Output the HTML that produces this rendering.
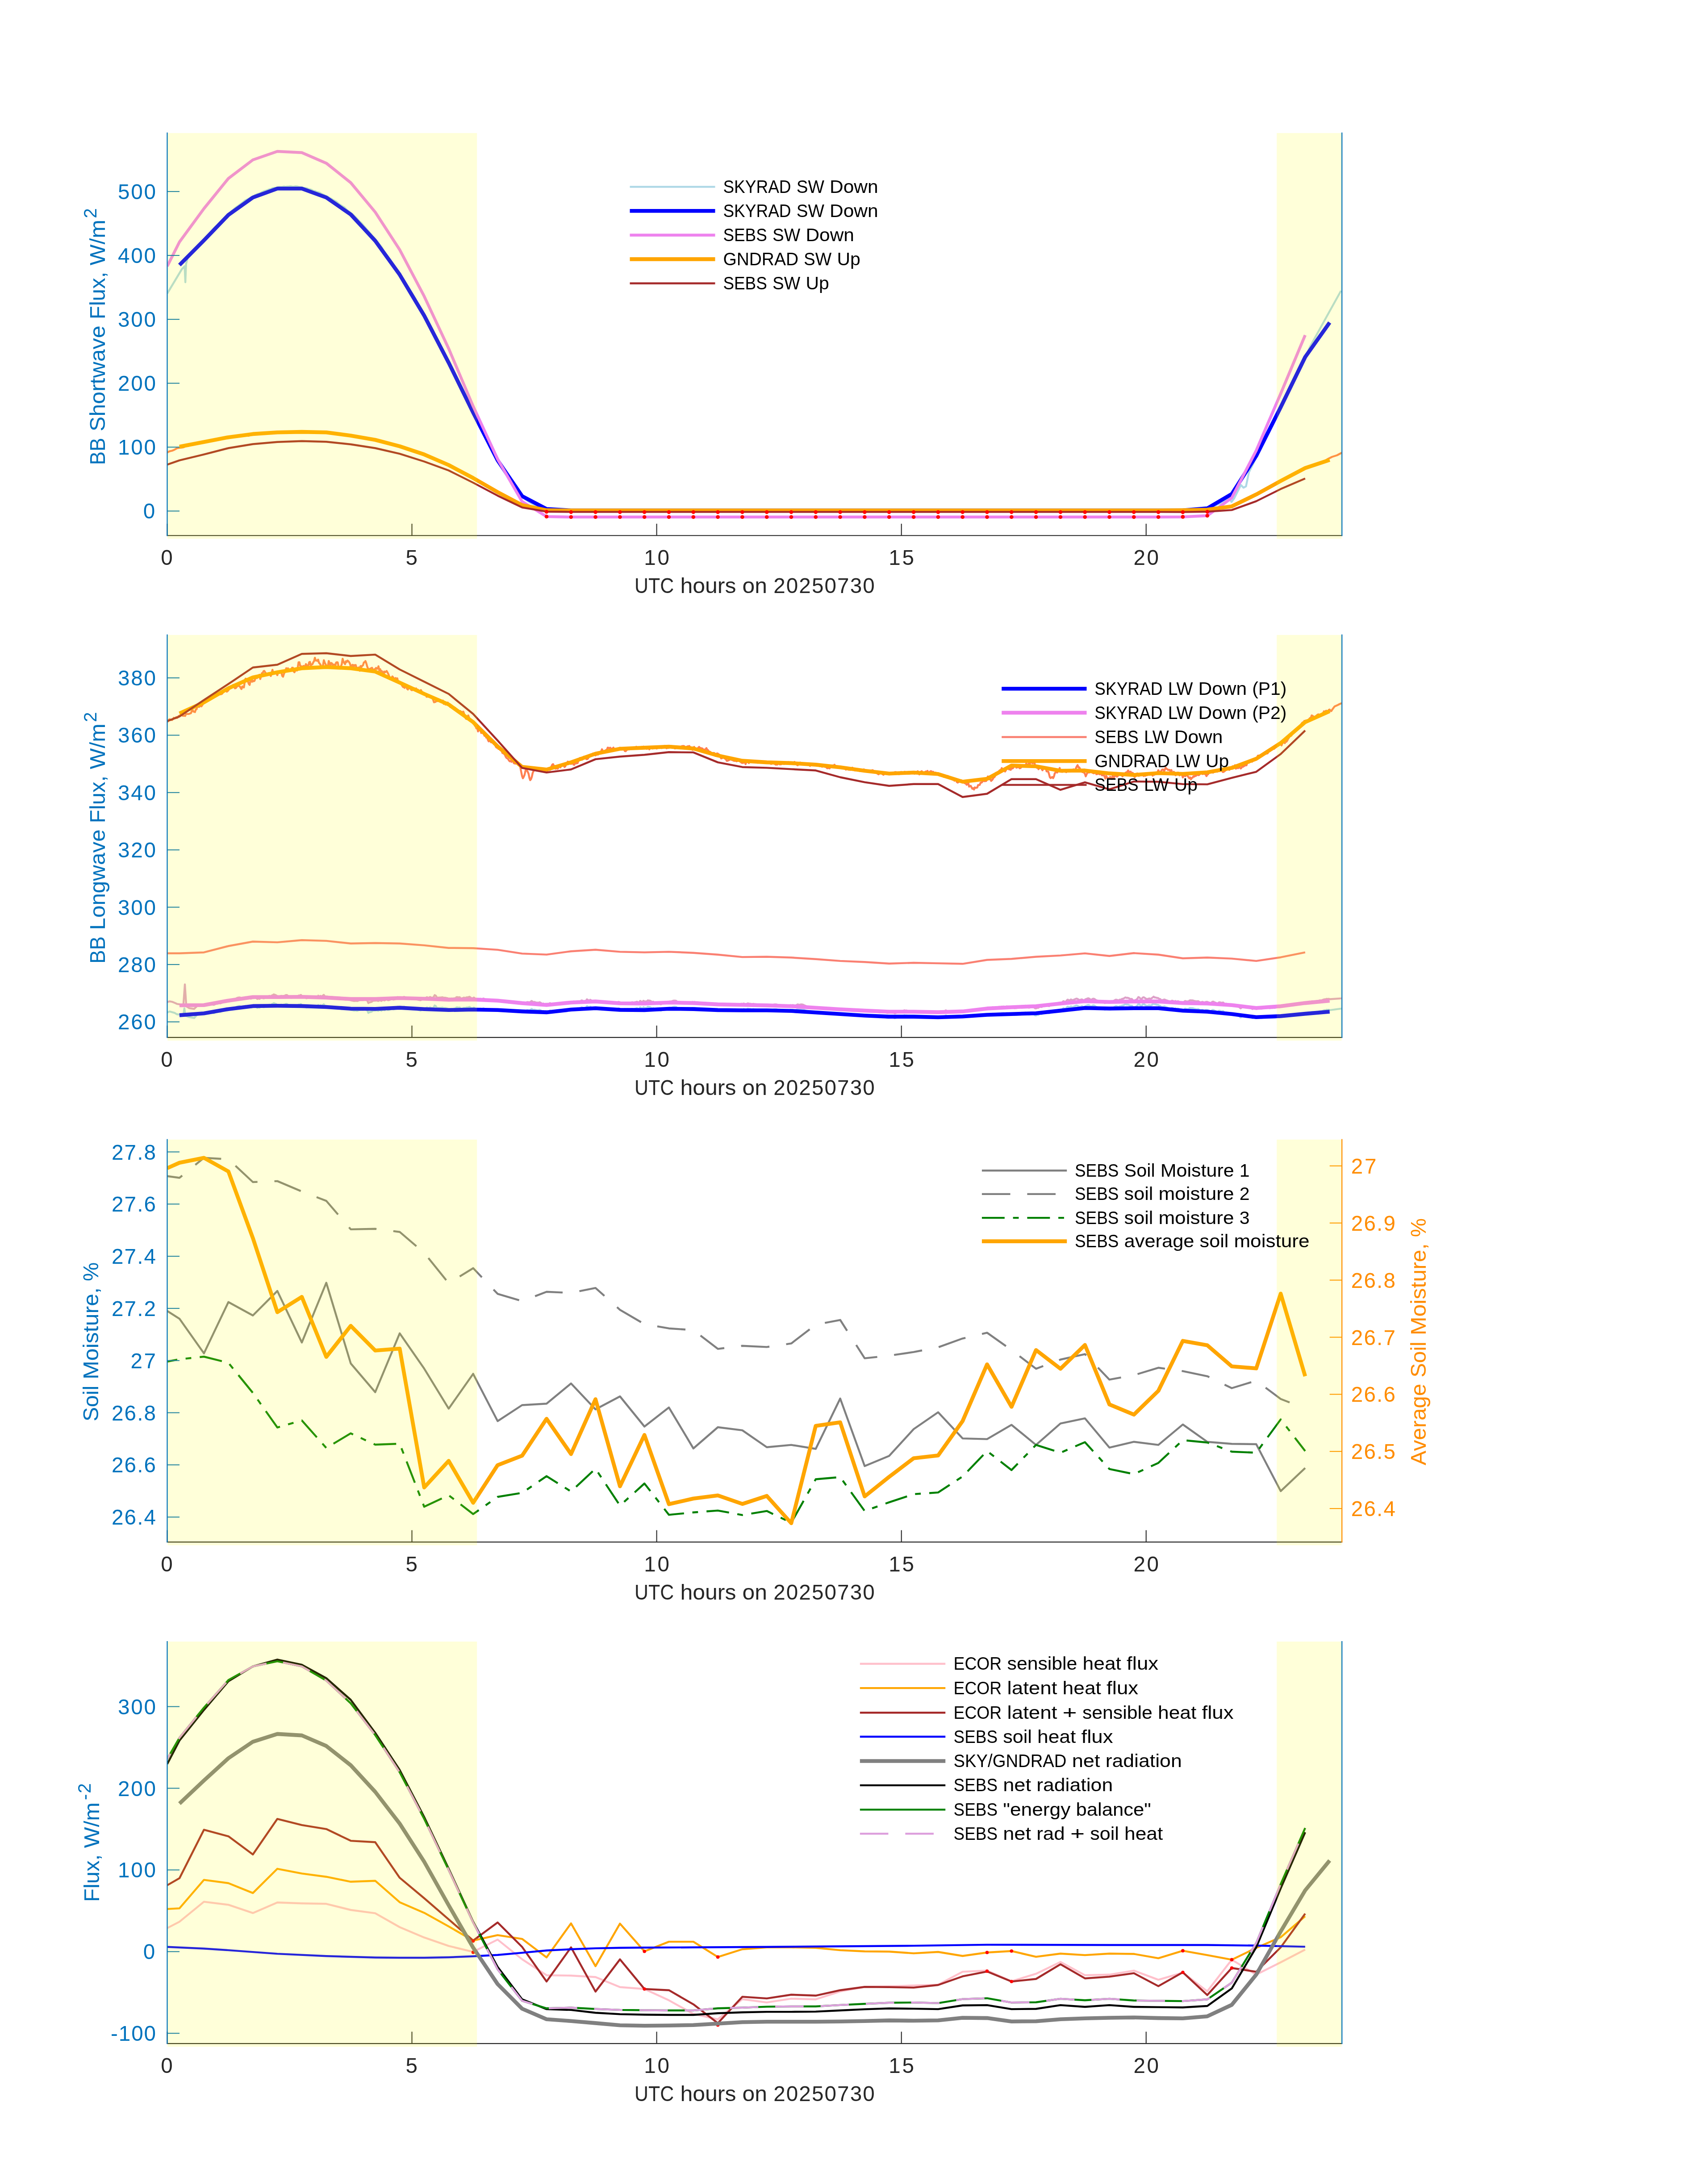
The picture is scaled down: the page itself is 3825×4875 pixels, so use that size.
<!DOCTYPE html>
<html lang="en"><head><meta charset="utf-8"><title>Radiation and flux plots</title>
<style>html,body{margin:0;padding:0;background:#fff}svg{display:block;will-change:transform}text{font-family:"Liberation Sans",sans-serif}</style></head>
<body>
<svg width="3825" height="4875" viewBox="0 0 3825 4875" font-family="Liberation Sans, sans-serif">
<rect width="3825" height="4875" fill="#ffffff"/>
<defs>
<clipPath id="c0"><rect x="374.5" y="294.8" width="2630.7" height="904.5"/></clipPath>
<clipPath id="c1"><rect x="374.5" y="1418.8" width="2630.7" height="904.3"/></clipPath>
<clipPath id="c2"><rect x="374.5" y="2548.8" width="2630.7" height="904.3"/></clipPath>
<clipPath id="c3"><rect x="374.5" y="3672.9" width="2630.7" height="903.2"/></clipPath>
</defs>
<g>
<g clip-path="url(#c0)">
<path d="M374.5 657.3 L407.4 602.5 L413.4 596.2 L415.1 632 L416.7 590.9 L420.5 576.6 L424.2 573.4 L427.8 568.8 L431.5 565.1 L435.2 560.3 L438.8 556.6 L442.5 553 L446.1 548.4 L449.8 545.1 L453.4 540.1 L457.1 536.2 L460.7 532.2 L464.4 528.5 L468 525 L471.7 520.1 L475.3 515.7 L479 511.5 L482.6 507.7 L486.3 505.5 L490 501.4 L493.6 497.1 L497.3 493.2 L500.9 489.5 L504.6 486 L508.2 483.2 L511.9 479.8 L515.5 476.6 L519.2 472.2 L522.8 469.4 L526.5 466 L530.1 463.3 L533.8 460.8 L537.5 458 L541.1 455.2 L544.8 452.4 L548.4 449.4 L552.1 447.5 L555.7 445.7 L559.4 443.7 L563 441.5 L566.7 440 L570.3 437.5 L574 435.7 L577.6 434.1 L581.3 433.4 L585 431.3 L588.6 429.4 L592.3 427.8 L595.9 426.9 L599.6 425.5 L603.2 423.9 L606.9 423.3 L610.5 421.4 L614.2 420.8 L617.8 420.6 L621.5 419.7 L625.1 418.7 L628.8 418.7 L632.4 418.4 L636.1 417.6 L639.8 418.3 L643.4 417.8 L647.1 417.5 L650.7 417.1 L654.4 417.6 L658 418 L661.7 417.2 L665.3 417.5 L669 418.4 L672.6 419.3 L676.3 419.7 L679.9 420.6 L683.6 421.1 L687.3 421.6 L690.9 423.5 L694.6 424.1 L698.2 425.4 L701.9 427.6 L705.5 428 L709.2 429.9 L712.8 430.5 L716.5 431.9 L720.1 434.4 L723.8 435.9 L727.4 437.6 L731.1 439.5 L734.8 441.2 L738.4 443.9 L742.1 445.2 L745.7 447.8 L749.4 449.7 L753 451.5 L756.7 454.8 L760.3 458 L764 460.1 L767.6 462.4 L771.3 464.5 L774.9 468.3 L778.6 471.7 L782.2 474.2 L785.9 477.1 L789.6 479.7 L793.2 483.4 L796.9 487 L800.5 491 L804.2 495.2 L807.8 498.1 L811.5 502.1 L815.1 506.5 L818.8 510.8 L822.4 515.1 L826.1 518.8 L829.7 523.5 L833.4 528 L837.1 531.7 L840.7 536.2 L844.4 540.4 L848 545.4 L851.7 549.7 L855.3 554.5 L859 561.4 L862.6 566.4 L866.3 571.4 L869.9 576.1 L873.6 581.2 L877.2 586.8 L880.9 591.9 L884.6 597.4 L888.2 602.9 L891.9 607.9 L895.5 613.1 L899.2 619.1 L902.8 624.7 L906.5 630.3 L910.1 636.7 L913.8 642.4 L917.4 648.4 L921.1 654.2 L924.7 659.9 L928.4 665.9 L932 672.7 L935.7 679.7 L939.4 686.3 L943 691.8 L946.7 698.1 L950.3 705.3 L954 712.3 L957.6 718.6 L961.3 725 L964.9 731.4 L968.6 738.9 L972.2 747 L975.9 752.9 L979.5 759.8 L983.2 767.3 L986.9 775 L990.5 781.3 L994.2 788.6 L997.8 796 L1001.5 803.4 L1005.1 810.4 L1008.8 818 L1012.4 824.8 L1016.1 832.7 L1019.7 840.6 L1023.4 848 L1027 855.6 L1030.7 863 L1034.4 870.1 L1038 878 L1041.7 885.4 L1045.3 893.3 L1049 900.9 L1052.6 908.6 L1056.3 915.4 L1059.9 922.2 L1063.6 929.6 L1067.2 937.6 L1070.9 944.4 L1074.5 951.5 L1078.2 959.2 L1081.8 966.4 L1085.5 974.9 L1089.2 983.8 L1092.8 991.3 L1096.5 998.4 L1100.1 1004.8 L1103.8 1012 L1107.4 1018.8 L1111.1 1025.2 L1114.7 1031.6 L1118.4 1037.5 L1122 1043.5 L1125.7 1050.4 L1129.3 1056.7 L1133 1062.5 L1136.7 1067.7 L1140.3 1073.3 L1144 1079 L1147.6 1084.4 L1151.3 1089.5 L1154.9 1094.5 L1158.6 1099.1 L1162.2 1103.5 L1165.9 1107.6 L1169.5 1111.3 L1173.2 1114.8 L1176.8 1118 L1180.5 1120.8 L1184.2 1123.4 L1187.8 1125.7 L1191.5 1127.8 L1195.1 1129.6 L1198.8 1131.3 L1202.4 1132.8 L1206.1 1134.3 L1209.7 1135.5 L1213.4 1136.6 L1217 1137.8 L1220.7 1139 L1224.3 1140 L1228 1140.9 L1231.7 1141.7 L1235.3 1142.4 L1239 1142.8 L1242.6 1143.2 L1246.3 1143.2 L1249.9 1143.3 L1253.6 1143.2 L1257.2 1143.2 L1260.9 1143.1 L1264.5 1143.1 L1268.2 1143 L1271.8 1142.9 L1275.5 1142.9 L1279.1 1143.1 L1282.8 1143.1 L1286.5 1143.1 L1290.1 1143.1 L1293.8 1143.2 L1297.4 1143.2 L1301.1 1143.2 L1304.7 1143.2 L1308.4 1143.2 L1312 1143.1 L1315.7 1143 L1319.3 1143 L1323 1142.9 L1326.6 1143 L1330.3 1142.9 L1334 1142.9 L1337.6 1142.9 L1341.3 1142.9 L1344.9 1142.8 L1348.6 1143 L1352.2 1142.9 L1355.9 1142.9 L1359.5 1142.8 L1363.2 1142.9 L1366.8 1142.9 L1370.5 1142.9 L1374.1 1142.9 L1377.8 1142.9 L1381.5 1143 L1385.1 1143.1 L1388.8 1143 L1392.4 1142.9 L1396.1 1143.1 L1399.7 1143.1 L1403.4 1143.1 L1407 1143 L1410.7 1143 L1414.3 1142.9 L1418 1142.9 L1421.6 1142.9 L1425.3 1142.9 L1428.9 1142.9 L1432.6 1143 L1436.3 1143.1 L1439.9 1143 L1443.6 1143 L1447.2 1143.1 L1450.9 1143.2 L1454.5 1143.1 L1458.2 1143.1 L1461.8 1142.9 L1465.5 1142.9 L1469.1 1143.1 L1472.8 1143 L1476.4 1143 L1480.1 1143 L1483.8 1143 L1487.4 1142.9 L1491.1 1142.9 L1494.7 1142.9 L1498.4 1142.9 L1502 1143.1 L1505.7 1143 L1509.3 1143.1 L1513 1143.1 L1516.6 1143 L1520.3 1142.9 L1523.9 1142.9 L1527.6 1142.9 L1531.3 1143 L1534.9 1143.1 L1538.6 1143.1 L1542.2 1143 L1545.9 1143 L1549.5 1143 L1553.2 1143.1 L1556.8 1142.9 L1560.5 1142.9 L1564.1 1143 L1567.8 1143 L1571.4 1143 L1575.1 1143 L1578.7 1143 L1582.4 1142.9 L1586.1 1143 L1589.7 1142.8 L1593.4 1142.9 L1597 1142.9 L1600.7 1142.8 L1604.3 1143 L1608 1143 L1611.6 1142.9 L1615.3 1142.9 L1618.9 1142.9 L1622.6 1143 L1626.2 1143 L1629.9 1143 L1633.6 1143 L1637.2 1142.9 L1640.9 1142.9 L1644.5 1142.9 L1648.2 1143 L1651.8 1143 L1655.5 1143 L1659.1 1143 L1662.8 1143.1 L1666.4 1143 L1670.1 1143 L1673.7 1142.9 L1677.4 1143 L1681.1 1143 L1684.7 1143 L1688.4 1143.1 L1692 1143 L1695.7 1143.1 L1699.3 1143 L1703 1143 L1706.6 1143 L1710.3 1142.9 L1713.9 1142.9 L1717.6 1142.9 L1721.2 1143 L1724.9 1143.1 L1728.5 1143 L1732.2 1143 L1735.9 1142.9 L1739.5 1142.9 L1743.2 1143 L1746.8 1142.9 L1750.5 1142.9 L1754.1 1143 L1757.8 1143 L1761.4 1143 L1765.1 1143 L1768.7 1143.1 L1772.4 1142.9 L1776 1142.9 L1779.7 1142.9 L1783.4 1142.8 L1787 1142.8 L1790.7 1142.9 L1794.3 1142.9 L1798 1143 L1801.6 1143 L1805.3 1143 L1808.9 1143 L1812.6 1142.9 L1816.2 1142.9 L1819.9 1143 L1823.5 1143 L1827.2 1142.9 L1830.9 1143 L1834.5 1143 L1838.2 1143 L1841.8 1143 L1845.5 1143 L1849.1 1143.1 L1852.8 1142.9 L1856.4 1142.9 L1860.1 1143.1 L1863.7 1143.1 L1867.4 1143 L1871 1143 L1874.7 1143 L1878.3 1143.1 L1882 1143 L1885.7 1143 L1889.3 1143 L1893 1143 L1896.6 1143.1 L1900.3 1142.9 L1903.9 1143 L1907.6 1143.1 L1911.2 1143.2 L1914.9 1143.1 L1918.5 1143.1 L1922.2 1143.1 L1925.8 1143 L1929.5 1143.1 L1933.2 1143.1 L1936.8 1143 L1940.5 1143 L1944.1 1143 L1947.8 1142.9 L1951.4 1143 L1955.1 1143 L1958.7 1143.1 L1962.4 1142.9 L1966 1142.9 L1969.7 1143 L1973.3 1142.9 L1977 1143 L1980.7 1143.1 L1984.3 1143 L1988 1143 L1991.6 1143.2 L1995.3 1143.1 L1998.9 1143 L2002.6 1143 L2006.2 1143 L2009.9 1142.9 L2013.5 1143 L2017.2 1143 L2020.8 1143.1 L2024.5 1143 L2028.1 1143 L2031.8 1143 L2035.5 1143 L2039.1 1143 L2042.8 1143 L2046.4 1143.1 L2050.1 1143 L2053.7 1143 L2057.4 1143.1 L2061 1142.9 L2064.7 1142.9 L2068.3 1142.9 L2072 1142.9 L2075.6 1142.9 L2079.3 1143 L2083 1143 L2086.6 1143 L2090.3 1143 L2093.9 1143 L2097.6 1142.9 L2101.2 1143 L2104.9 1143.1 L2108.5 1143.1 L2112.2 1143 L2115.8 1143.1 L2119.5 1143.1 L2123.1 1143 L2126.8 1143.1 L2130.5 1143 L2134.1 1143.1 L2137.8 1143 L2141.4 1142.9 L2145.1 1143 L2148.7 1143.1 L2152.4 1143.2 L2156 1143.1 L2159.7 1143 L2163.3 1143.2 L2167 1143.1 L2170.6 1143.2 L2174.3 1143.1 L2177.9 1143.1 L2181.6 1143.1 L2185.3 1143.1 L2188.9 1143.1 L2192.6 1143.2 L2196.2 1143.1 L2199.9 1143 L2203.5 1143 L2207.2 1143 L2210.8 1143.1 L2214.5 1143.1 L2218.1 1143 L2221.8 1143 L2225.4 1143 L2229.1 1143 L2232.8 1143 L2236.4 1143.1 L2240.1 1143 L2243.7 1142.9 L2247.4 1143 L2251 1142.8 L2254.7 1142.9 L2258.3 1142.9 L2262 1142.8 L2265.6 1142.8 L2269.3 1142.8 L2272.9 1142.9 L2276.6 1142.9 L2280.3 1142.9 L2283.9 1142.9 L2287.6 1142.9 L2291.2 1143 L2294.9 1142.9 L2298.5 1143 L2302.2 1142.9 L2305.8 1142.9 L2309.5 1143 L2313.1 1143.1 L2316.8 1142.9 L2320.4 1142.9 L2324.1 1142.9 L2327.8 1142.8 L2331.4 1143 L2335.1 1143 L2338.7 1143 L2342.4 1143 L2346 1143 L2349.7 1143.1 L2353.3 1143 L2357 1143 L2360.6 1143.1 L2364.3 1143.1 L2367.9 1143.2 L2371.6 1143.1 L2375.2 1143 L2378.9 1143.1 L2382.6 1143.1 L2386.2 1143 L2389.9 1143.1 L2393.5 1143.1 L2397.2 1143.1 L2400.8 1143.1 L2404.5 1143.1 L2408.1 1143.1 L2411.8 1143.1 L2415.4 1142.9 L2419.1 1142.9 L2422.7 1143 L2426.4 1143 L2430.1 1143 L2433.7 1142.9 L2437.4 1142.9 L2441 1143 L2444.7 1143 L2448.3 1143.1 L2452 1143 L2455.6 1143.2 L2459.3 1143 L2462.9 1143 L2466.6 1143 L2470.2 1143 L2473.9 1143.1 L2477.6 1143 L2481.2 1143 L2484.9 1143.1 L2488.5 1143.1 L2492.2 1143 L2495.8 1142.9 L2499.5 1143 L2503.1 1142.9 L2506.8 1142.9 L2510.4 1143 L2514.1 1142.9 L2517.7 1142.9 L2521.4 1143 L2525 1143 L2528.7 1143 L2532.4 1142.9 L2536 1143 L2539.7 1143 L2543.3 1143 L2547 1143 L2550.6 1142.9 L2554.3 1142.9 L2557.9 1143 L2561.6 1143.1 L2565.2 1143 L2568.9 1143 L2572.5 1143.2 L2576.2 1143.1 L2579.9 1143.1 L2583.5 1143.1 L2587.2 1143.1 L2590.8 1143 L2594.5 1143 L2598.1 1143.1 L2601.8 1143.1 L2605.4 1143.2 L2609.1 1143.2 L2612.7 1143.3 L2616.4 1143.2 L2620 1143.2 L2623.7 1143.1 L2627.4 1143.2 L2631 1143.1 L2634.7 1143.1 L2638.3 1143.1 L2642 1143 L2645.6 1142.9 L2649.3 1142.9 L2652.9 1142.7 L2656.6 1142.7 L2660.2 1142.6 L2663.9 1142.5 L2667.5 1142.6 L2671.2 1142.7 L2674.8 1142.7 L2678.5 1142.6 L2682.2 1142.3 L2685.8 1142.1 L2689.5 1141.7 L2693.1 1141.1 L2696.8 1140.3 L2700.4 1139.4 L2704.1 1138.4 L2707.7 1137.2 L2711.4 1135.9 L2715 1134.6 L2718.7 1133.3 L2722.3 1131.8 L2726 1130.1 L2729.7 1128.3 L2733.3 1126.8 L2737 1124.9 L2740.6 1121.9 L2744.3 1119.4 L2747.9 1116.6 L2751.6 1113.9 L2758 1124 L2763.7 1116.3 L2778.9 1086 L2784.9 1092.1 L2790.4 1089 L2797 1057.2 L2806.2 1039 L2821 1007.4 L2824.6 1001 L2828.3 993 L2832 986.2 L2835.6 978.3 L2839.3 971.3 L2842.9 963.2 L2846.6 956.1 L2850.2 948.4 L2853.9 940.6 L2857.5 933.7 L2861.2 926 L2864.8 918.6 L2868.5 910.9 L2872.1 904 L2875.8 896.4 L2879.5 888.5 L2883.1 881.2 L2886.8 872.9 L2890.4 865 L2894.1 857 L2897.7 849.7 L2901.4 842.4 L2905 834.1 L2908.7 826.6 L2912.3 819.9 L2916 813.1 L2919.6 806.1 L2923.3 799.8 L2927 792.5 L2933.5 776.8 L2972.9 705.5 L3003.2 651" fill="none" stroke="#ADD8E6" stroke-width="4.4" stroke-linejoin="round"/>
<path d="M401.9 593.5 L456.7 538.2 L511.5 481.3 L566.3 442.3 L621.1 422.3 L675.9 422.3 L730.7 442.3 L785.5 480.2 L840.3 539.2 L895.1 615.1 L950 706.8 L1004.8 812.2 L1059.6 923.9 L1114.4 1030.9 L1169.2 1111 L1224 1139.9 L1278.8 1143 L1333.6 1143 L1388.4 1143 L1443.2 1143 L1498 1143 L1552.8 1143 L1607.6 1143 L1662.4 1143 L1717.2 1143 L1772 1143 L1826.8 1143 L1881.6 1143 L1936.4 1143 L1991.2 1143 L2046.1 1143 L2100.9 1143 L2155.7 1143 L2210.5 1143 L2265.3 1143 L2320.1 1143 L2374.9 1143 L2429.7 1143 L2484.5 1143 L2539.3 1143 L2594.1 1143 L2648.9 1142.7 L2703.7 1138.4 L2758.5 1106.3 L2813.3 1020.8 L2868.1 911.7 L2922.9 799.5 L2977.7 722.2" fill="none" stroke="#0000FF" stroke-width="8.6" stroke-linejoin="round"/>
<path d="M374.5 596.2 L401.9 541.9 L456.7 467.1 L511.5 399.6 L566.3 358 L621.1 339 L675.9 341.7 L730.7 365.4 L785.5 409.1 L840.3 475 L895.1 559.3 L950 663.6 L1004.8 780.6 L1059.6 909.7 L1114.4 1028.2 L1169.2 1123.1 L1224 1156.8 L1278.8 1157.8 L1333.6 1157.8 L1388.4 1157.8 L1443.2 1157.8 L1498 1157.8 L1552.8 1157.8 L1607.6 1157.8 L1662.4 1157.8 L1717.2 1157.8 L1772 1157.8 L1826.8 1157.8 L1881.6 1157.8 L1936.4 1157.8 L1991.2 1157.8 L2046.1 1157.8 L2100.9 1157.8 L2155.7 1157.8 L2210.5 1157.8 L2265.3 1157.8 L2320.1 1157.8 L2374.9 1157.8 L2429.7 1157.8 L2484.5 1157.8 L2539.3 1157.8 L2594.1 1157.8 L2648.9 1157.4 L2703.7 1154.8 L2758.5 1114.8 L2813.3 1008.7 L2868.1 881.4 L2922.9 750.4" fill="none" stroke="#EE82EE" stroke-width="6.5" stroke-linejoin="round"/>
<path d="M374.5 1013.5 L377.8 1011.4 L381.4 1010.1 L385.1 1009.4 L388.7 1008 L392.4 1006.1 L396.1 1003.9 L399.7 1003.1 L403.4 1002.5 L407 1002.3 L410.7 1001.7 L414.3 1000.1 L418 999 L421.6 998.8 L425.3 997.1 L428.9 996.9 L432.6 996 L436.2 995.1 L439.9 993.8 L443.6 992.8 L447.2 992.7 L450.9 991.4 L454.5 990.2 L458.2 989.7 L461.8 988.7 L465.5 988.8 L469.1 987.7 L472.8 986.6 L476.4 986.3 L480.1 985.3 L483.7 984.8 L487.4 984.9 L491.1 983.4 L494.7 982.9 L498.4 981.6 L502 981.8 L505.7 981.5 L509.3 981 L513 979.9 L516.6 979.9 L520.3 979.3 L523.9 977.4 L527.6 976.2 L531.2 977.2 L534.9 976.7 L538.5 976.1 L542.2 976.1 L545.9 975.4 L549.5 974.9 L553.2 975 L556.8 975.8 L560.5 974.4 L564.1 973.3 L567.8 973 L571.4 972.6 L575.1 971.5 L578.7 971.6 L582.4 971.6 L586 971.3 L589.7 971.2 L593.4 970.3 L597 970.3 L600.7 970.3 L604.3 969.7 L608 970.5 L611.6 969.8 L615.3 968.5 L618.9 968.2 L622.6 969.5 L626.2 969.2 L629.9 967.9 L633.5 968.2 L637.2 968 L640.9 967.9 L644.5 968.7 L648.2 968.9 L651.8 969.1 L655.5 967.6 L659.1 967.4 L662.8 967.2 L666.4 967.9 L670.1 967 L673.7 967.6 L677.4 967.3 L681 967.5 L684.7 967.3 L688.3 967.6 L692 967.6 L695.7 967.7 L699.3 968.2 L703 968.6 L706.6 968.1 L710.3 967.8 L713.9 968.1 L717.6 968.2 L721.2 968.2 L724.9 968.7 L728.5 969.3 L732.2 968.7 L735.8 969.7 L739.5 969.3 L743.2 970.1 L746.8 971.1 L750.5 971.7 L754.1 972 L757.8 971.9 L761.4 973 L765.1 973 L768.7 973.4 L772.4 973.4 L776 974.1 L779.7 975 L783.3 975.6 L787 976.2 L790.7 977.3 L794.3 977 L798 978 L801.6 979.2 L805.3 979.8 L808.9 980.1 L812.6 980.2 L816.2 980.5 L819.9 981.1 L823.5 982 L827.2 982.9 L830.8 984.1 L834.5 985.5 L838.2 986.2 L841.8 986 L845.5 986.8 L849.1 988.1 L852.8 989.1 L856.4 990.2 L860.1 991.1 L863.7 992.2 L867.4 992.8 L871 993.9 L874.7 994.9 L878.3 996.3 L882 996.3 L885.6 996.6 L889.3 998 L893 998.6 L896.6 999.5 L900.3 1000.5 L903.9 1001.8 L907.6 1003.7 L911.2 1005.1 L914.9 1006.7 L918.5 1007.1 L922.2 1007.6 L925.8 1009.2 L929.5 1010.7 L933.1 1012 L936.8 1013.6 L940.5 1015.3 L944.1 1015.2 L947.8 1017.4 L951.4 1018.7 L955.1 1020.4 L958.7 1021.4 L962.4 1022.9 L966 1024.1 L969.7 1025.9 L973.3 1026.5 L977 1029.4 L980.6 1031.2 L984.3 1032.5 L988 1033.4 L991.6 1035.6 L995.3 1036.5 L998.9 1038.7 L1002.6 1040.3 L1006.2 1042.8 L1009.9 1044 L1013.5 1045.3 L1017.2 1047.2 L1020.8 1048.9 L1024.5 1051.7 L1028.1 1054.3 L1031.8 1056 L1035.4 1058.5 L1039.1 1059.8 L1042.8 1060.9 L1046.4 1062.6 L1050.1 1064.8 L1053.7 1067.5 L1057.4 1068.9 L1061 1071.4 L1064.7 1073.7 L1068.3 1075.5 L1072 1077.9 L1075.6 1079.7 L1079.3 1081.5 L1082.9 1083.8 L1086.6 1085.9 L1090.3 1088.3 L1093.9 1091.2 L1097.6 1093.4 L1101.2 1095.2 L1104.9 1097.3 L1108.5 1098.8 L1112.2 1100.5 L1115.8 1103.2 L1119.5 1105.5 L1123.1 1106.9 L1126.8 1108.5 L1130.4 1110.8 L1134.1 1112.5 L1137.8 1114.1 L1141.4 1116 L1145.1 1118 L1148.7 1120.6 L1152.4 1121.5 L1156 1123.9 L1159.7 1125.8 L1163.3 1127.3 L1167 1128.8 L1170.6 1130.6 L1174.3 1131.5 L1177.9 1133.4 L1181.6 1133.8 L1185.2 1133.6 L1188.9 1135.1 L1192.6 1136.5 L1196.2 1137.5 L1199.9 1137.5 L1203.5 1138.3 L1207.2 1139 L1210.8 1139.8 L1214.5 1140.4 L1218.1 1140.9 L1221.8 1141.6 L1225.4 1142 L1229.1 1142.2 L1232.7 1142.4 L1236.4 1142.7 L1240.1 1142.7 L1243.7 1142.8 L1247.4 1142.7 L1251 1142.8 L1254.7 1142.8 L1258.3 1142.9 L1262 1142.8 L1265.6 1142.9 L1269.3 1142.9 L1272.9 1142.9 L1276.6 1142.9 L1280.2 1142.9 L1283.9 1143 L1287.6 1143 L1291.2 1143 L1294.9 1143 L1298.5 1143.1 L1302.2 1143.1 L1305.8 1143.1 L1309.5 1143.1 L1313.1 1143 L1316.8 1143 L1320.4 1143 L1324.1 1143 L1327.7 1143 L1331.4 1143 L1335 1143 L1338.7 1143 L1342.4 1143 L1346 1142.9 L1349.7 1142.8 L1353.3 1142.9 L1357 1143 L1360.6 1143 L1364.3 1143 L1367.9 1143 L1371.6 1143 L1375.2 1143 L1378.9 1143.1 L1382.5 1143.1 L1386.2 1143.1 L1389.9 1143 L1393.5 1143 L1397.2 1143.1 L1400.8 1143 L1404.5 1143.1 L1408.1 1143.1 L1411.8 1143 L1415.4 1143 L1419.1 1143 L1422.7 1143 L1426.4 1143.1 L1430 1143 L1433.7 1143.1 L1437.4 1143 L1441 1143.1 L1444.7 1143.1 L1448.3 1143 L1452 1143 L1455.6 1143 L1459.3 1143.1 L1462.9 1143.2 L1466.6 1143.1 L1470.2 1143.1 L1473.9 1143.1 L1477.5 1143.1 L1481.2 1143.1 L1484.8 1143.1 L1488.5 1143.2 L1492.2 1143.1 L1495.8 1143.1 L1499.5 1143.1 L1503.1 1143.1 L1506.8 1143.1 L1510.4 1143.1 L1514.1 1143.1 L1517.7 1143.2 L1521.4 1143.2 L1525 1143.1 L1528.7 1143.2 L1532.3 1143.2 L1536 1143.1 L1539.7 1143.1 L1543.3 1143.1 L1547 1143.1 L1550.6 1143.1 L1554.3 1143 L1557.9 1143.1 L1561.6 1143.1 L1565.2 1143.1 L1568.9 1143.1 L1572.5 1143.1 L1576.2 1143.1 L1579.8 1143.2 L1583.5 1143.2 L1587.2 1143.2 L1590.8 1143.3 L1594.5 1143.2 L1598.1 1143.1 L1601.8 1143.1 L1605.4 1143.2 L1609.1 1143.3 L1612.7 1143.2 L1616.4 1143.2 L1620 1143.2 L1623.7 1143.2 L1627.3 1143.2 L1631 1143.1 L1634.6 1143.2 L1638.3 1143.1 L1642 1143.1 L1645.6 1143.2 L1649.3 1143.1 L1652.9 1143.1 L1656.6 1143.1 L1660.2 1143.1 L1663.9 1143.1 L1667.5 1143.1 L1671.2 1143.1 L1674.8 1143.1 L1678.5 1143.2 L1682.1 1143.2 L1685.8 1143.1 L1689.5 1143.1 L1693.1 1143.2 L1696.8 1143.2 L1700.4 1143.2 L1704.1 1143.1 L1707.7 1143.2 L1711.4 1143.1 L1715 1143.2 L1718.7 1143.2 L1722.3 1143.1 L1726 1143.2 L1729.6 1143.2 L1733.3 1143.2 L1737 1143.1 L1740.6 1143.1 L1744.3 1143.1 L1747.9 1143.1 L1751.6 1143.1 L1755.2 1143.1 L1758.9 1143.1 L1762.5 1143.1 L1766.2 1143 L1769.8 1143.1 L1773.5 1143.1 L1777.1 1143.1 L1780.8 1143.2 L1784.4 1143.1 L1788.1 1143.2 L1791.8 1143.1 L1795.4 1143.1 L1799.1 1143.1 L1802.7 1143 L1806.4 1143 L1810 1143.1 L1813.7 1143 L1817.3 1143.1 L1821 1143 L1824.6 1143 L1828.3 1143.1 L1831.9 1143.1 L1835.6 1143.1 L1839.3 1143.1 L1842.9 1143.1 L1846.6 1143.1 L1850.2 1143.1 L1853.9 1143 L1857.5 1143.2 L1861.2 1143.3 L1864.8 1143.3 L1868.5 1143.2 L1872.1 1143.2 L1875.8 1143.1 L1879.4 1143 L1883.1 1143.1 L1886.8 1143 L1890.4 1143.1 L1894.1 1143.1 L1897.7 1143.1 L1901.4 1143.2 L1905 1143.2 L1908.7 1143.2 L1912.3 1143.1 L1916 1143.1 L1919.6 1143.2 L1923.3 1143.3 L1926.9 1143.2 L1930.6 1143.1 L1934.3 1143.1 L1937.9 1143.2 L1941.6 1143.1 L1945.2 1143.1 L1948.9 1143.1 L1952.5 1143.1 L1956.2 1143 L1959.8 1143.1 L1963.5 1143.1 L1967.1 1143.1 L1970.8 1143.1 L1974.4 1143.1 L1978.1 1143.1 L1981.7 1143.1 L1985.4 1143.1 L1989.1 1143.1 L1992.7 1143.1 L1996.4 1143.2 L2000 1143.1 L2003.7 1143.1 L2007.3 1143.2 L2011 1143.2 L2014.6 1143.1 L2018.3 1143.1 L2021.9 1143.1 L2025.6 1143 L2029.2 1143.1 L2032.9 1143.1 L2036.6 1143.1 L2040.2 1143.1 L2043.9 1143.1 L2047.5 1143.1 L2051.2 1143 L2054.8 1143.1 L2058.5 1143.1 L2062.1 1143.1 L2065.8 1143.2 L2069.4 1143.1 L2073.1 1143 L2076.7 1143.1 L2080.4 1143.1 L2084.1 1143.1 L2087.7 1143.1 L2091.4 1143.1 L2095 1143 L2098.7 1143 L2102.3 1143 L2106 1143 L2109.6 1143.1 L2113.3 1143.1 L2116.9 1143.1 L2120.6 1143.1 L2124.2 1143.1 L2127.9 1143.1 L2131.5 1143.2 L2135.2 1143.2 L2138.9 1143.1 L2142.5 1143.1 L2146.2 1143 L2149.8 1143 L2153.5 1143.1 L2157.1 1143.1 L2160.8 1143.1 L2164.4 1143.1 L2168.1 1143.1 L2171.7 1143.1 L2175.4 1143.1 L2179 1143 L2182.7 1143 L2186.4 1143.1 L2190 1143 L2193.7 1143 L2197.3 1143 L2201 1143 L2204.6 1143.1 L2208.3 1143.1 L2211.9 1143.2 L2215.6 1143.1 L2219.2 1143.1 L2222.9 1143.2 L2226.5 1143.1 L2230.2 1143.1 L2233.9 1143.1 L2237.5 1143.1 L2241.2 1143.2 L2244.8 1143.2 L2248.5 1143.1 L2252.1 1143.1 L2255.8 1143.1 L2259.4 1143.1 L2263.1 1143.1 L2266.7 1143.1 L2270.4 1143 L2274 1143.1 L2277.7 1143 L2281.3 1143.1 L2285 1143.1 L2288.7 1143.1 L2292.3 1143.2 L2296 1143.1 L2299.6 1143 L2303.3 1143.1 L2306.9 1143.1 L2310.6 1143.1 L2314.2 1143.2 L2317.9 1143.2 L2321.5 1143.2 L2325.2 1143.1 L2328.8 1143.1 L2332.5 1143.2 L2336.2 1143.2 L2339.8 1143.1 L2343.5 1143.1 L2347.1 1143.1 L2350.8 1143 L2354.4 1143 L2358.1 1143 L2361.7 1143 L2365.4 1143 L2369 1143 L2372.7 1143 L2376.3 1142.9 L2380 1142.9 L2383.7 1142.9 L2387.3 1142.9 L2391 1142.9 L2394.6 1143.1 L2398.3 1143.1 L2401.9 1143.1 L2405.6 1143.1 L2409.2 1143.1 L2412.9 1143.1 L2416.5 1143.1 L2420.2 1143.1 L2423.8 1143.1 L2427.5 1143.1 L2431.1 1143.1 L2434.8 1143 L2438.5 1143 L2442.1 1143.1 L2445.8 1143.1 L2449.4 1143 L2453.1 1143 L2456.7 1143 L2460.4 1143 L2464 1143.1 L2467.7 1143 L2471.3 1143.1 L2475 1143 L2478.6 1143 L2482.3 1143 L2486 1143 L2489.6 1143 L2493.3 1143 L2496.9 1143 L2500.6 1143 L2504.2 1143 L2507.9 1143.1 L2511.5 1143 L2515.2 1143 L2518.8 1143 L2522.5 1143 L2526.1 1143 L2529.8 1142.9 L2533.5 1143 L2537.1 1143 L2540.8 1143.2 L2544.4 1143.3 L2548.1 1143.1 L2551.7 1143 L2555.4 1143.1 L2559 1143.1 L2562.7 1143.1 L2566.3 1143.1 L2570 1143.2 L2573.6 1143.1 L2577.3 1143.1 L2580.9 1143.1 L2584.6 1143.1 L2588.3 1143.1 L2591.9 1143.1 L2595.6 1143.1 L2599.2 1143 L2602.9 1143 L2606.5 1143 L2610.2 1143 L2613.8 1142.9 L2617.5 1142.9 L2621.1 1142.9 L2624.8 1142.8 L2628.4 1142.8 L2632.1 1142.7 L2635.8 1142.7 L2639.4 1142.7 L2643.1 1142.7 L2646.7 1142.7 L2650.4 1142.6 L2654 1142.5 L2657.7 1142.4 L2661.3 1142.2 L2665 1142.1 L2668.6 1142.1 L2672.3 1141.9 L2675.9 1141.9 L2679.6 1141.9 L2683.3 1141.8 L2686.9 1141.7 L2690.6 1141.6 L2694.2 1141.3 L2697.9 1141.1 L2701.5 1140.9 L2705.2 1140.6 L2708.8 1140.3 L2712.5 1139.1 L2716.1 1139.7 L2719.8 1139.3 L2723.4 1138.8 L2727.1 1138.7 L2730.7 1137.4 L2734.4 1137.4 L2738.1 1137.2 L2741.7 1136.2 L2745.4 1136 L2749 1135.1 L2752.7 1134.9 L2756.3 1133.7 L2760 1133 L2763.6 1131 L2767.3 1128.9 L2770.9 1127.7 L2774.6 1126.4 L2778.2 1125.1 L2781.9 1122.8 L2785.6 1121 L2789.2 1119.1 L2792.9 1117.7 L2796.5 1115.2 L2800.2 1113.8 L2803.8 1112.2 L2807.5 1111.1 L2811.1 1108.4 L2814.8 1107 L2818.4 1104.2 L2822.1 1102.7 L2825.7 1100.7 L2829.4 1098.8 L2833.1 1096.1 L2836.7 1094.3 L2840.4 1092.4 L2844 1090.5 L2847.7 1087.9 L2851.3 1086.5 L2855 1085.1 L2858.6 1083.3 L2862.3 1081.2 L2865.9 1078.5 L2869.6 1076.5 L2873.2 1074.6 L2876.9 1073.5 L2880.5 1070.9 L2884.2 1068.2 L2887.9 1066.2 L2891.5 1064.2 L2895.2 1063.3 L2898.8 1061 L2902.5 1058 L2906.1 1056.4 L2909.8 1054.6 L2913.4 1053.8 L2917.1 1051.8 L2920.7 1050.3 L2924.4 1048.2 L2928 1047.2 L2931.7 1045.2 L2935.4 1043.9 L2939 1042.8 L2942.7 1040.9 L2946.3 1039.6 L2950 1039.8 L2953.6 1038.9 L2957.3 1037.6 L2960.9 1035.9 L2972.3 1028.5 L2983.2 1023 L2994.2 1019.5 L3005.1 1013.8" fill="none" stroke="#FF7F50" stroke-width="4.4" stroke-linejoin="round"/>
<path d="M401.9 1000.3 L456.7 989.8 L511.5 979.2 L566.3 971.9 L621.1 968.2 L675.9 967.1 L730.7 968.2 L785.5 975.5 L840.3 985 L895.1 999.3 L950 1017.7 L1004.8 1041.4 L1059.6 1070.4 L1114.4 1102 L1169.2 1131 L1224 1142.6 L1278.8 1143.1 L1333.6 1143.1 L1388.4 1143.1 L1443.2 1143.1 L1498 1143.1 L1552.8 1143.1 L1607.6 1143.1 L1662.4 1143.1 L1717.2 1143.1 L1772 1143.1 L1826.8 1143.1 L1881.6 1143.1 L1936.4 1143.1 L1991.2 1143.1 L2046.1 1143.1 L2100.9 1143.1 L2155.7 1143.1 L2210.5 1143.1 L2265.3 1143.1 L2320.1 1143.1 L2374.9 1143.1 L2429.7 1143.1 L2484.5 1143.1 L2539.3 1143.1 L2594.1 1143.1 L2648.9 1142.6 L2703.7 1141.2 L2758.5 1133.9 L2813.3 1107.2 L2868.1 1076.9 L2922.9 1048.1 L2977.7 1029.9" fill="none" stroke="#FFA500" stroke-width="8.6" stroke-linejoin="round"/>
<path d="M374.5 1040.4 L401.9 1030.9 L456.7 1017.7 L511.5 1003.5 L566.3 994.5 L621.1 989.8 L675.9 987.7 L730.7 989.2 L785.5 995 L840.3 1003.5 L895.1 1016.1 L950 1033.5 L1004.8 1053.5 L1059.6 1080.9 L1114.4 1109.9 L1169.2 1136.3 L1224 1145.7 L1278.8 1146.4 L1333.6 1146.4 L1388.4 1146.4 L1443.2 1146.4 L1498 1146.4 L1552.8 1146.4 L1607.6 1146.4 L1662.4 1146.4 L1717.2 1146.4 L1772 1146.4 L1826.8 1146.4 L1881.6 1146.4 L1936.4 1146.4 L1991.2 1146.4 L2046.1 1146.4 L2100.9 1146.4 L2155.7 1146.4 L2210.5 1146.4 L2265.3 1146.4 L2320.1 1146.4 L2374.9 1146.4 L2429.7 1146.4 L2484.5 1146.4 L2539.3 1146.4 L2594.1 1146.4 L2648.9 1146.6 L2703.7 1145.7 L2758.5 1142.1 L2813.3 1122.4 L2868.1 1095.1 L2922.9 1071.4" fill="none" stroke="#A52A2A" stroke-width="4.4" stroke-linejoin="round"/>
<circle cx="1224" cy="1146" r="4.3" fill="#ff0000"/>
<circle cx="1224" cy="1156.8" r="4.3" fill="#ff0000"/>
<circle cx="1278.8" cy="1146.7" r="4.3" fill="#ff0000"/>
<circle cx="1278.8" cy="1157.8" r="4.3" fill="#ff0000"/>
<circle cx="1333.6" cy="1146.7" r="4.3" fill="#ff0000"/>
<circle cx="1333.6" cy="1157.8" r="4.3" fill="#ff0000"/>
<circle cx="1388.4" cy="1146.7" r="4.3" fill="#ff0000"/>
<circle cx="1388.4" cy="1157.8" r="4.3" fill="#ff0000"/>
<circle cx="1443.2" cy="1146.7" r="4.3" fill="#ff0000"/>
<circle cx="1443.2" cy="1157.8" r="4.3" fill="#ff0000"/>
<circle cx="1498" cy="1146.7" r="4.3" fill="#ff0000"/>
<circle cx="1498" cy="1157.8" r="4.3" fill="#ff0000"/>
<circle cx="1552.8" cy="1146.7" r="4.3" fill="#ff0000"/>
<circle cx="1552.8" cy="1157.8" r="4.3" fill="#ff0000"/>
<circle cx="1607.6" cy="1146.7" r="4.3" fill="#ff0000"/>
<circle cx="1607.6" cy="1157.8" r="4.3" fill="#ff0000"/>
<circle cx="1662.4" cy="1146.7" r="4.3" fill="#ff0000"/>
<circle cx="1662.4" cy="1157.8" r="4.3" fill="#ff0000"/>
<circle cx="1717.2" cy="1146.7" r="4.3" fill="#ff0000"/>
<circle cx="1717.2" cy="1157.8" r="4.3" fill="#ff0000"/>
<circle cx="1772" cy="1146.7" r="4.3" fill="#ff0000"/>
<circle cx="1772" cy="1157.8" r="4.3" fill="#ff0000"/>
<circle cx="1826.8" cy="1146.7" r="4.3" fill="#ff0000"/>
<circle cx="1826.8" cy="1157.8" r="4.3" fill="#ff0000"/>
<circle cx="1881.6" cy="1146.7" r="4.3" fill="#ff0000"/>
<circle cx="1881.6" cy="1157.8" r="4.3" fill="#ff0000"/>
<circle cx="1936.4" cy="1146.7" r="4.3" fill="#ff0000"/>
<circle cx="1936.4" cy="1157.8" r="4.3" fill="#ff0000"/>
<circle cx="1991.2" cy="1146.7" r="4.3" fill="#ff0000"/>
<circle cx="1991.2" cy="1157.8" r="4.3" fill="#ff0000"/>
<circle cx="2046.1" cy="1146.7" r="4.3" fill="#ff0000"/>
<circle cx="2046.1" cy="1157.8" r="4.3" fill="#ff0000"/>
<circle cx="2100.9" cy="1146.7" r="4.3" fill="#ff0000"/>
<circle cx="2100.9" cy="1157.8" r="4.3" fill="#ff0000"/>
<circle cx="2155.7" cy="1146.7" r="4.3" fill="#ff0000"/>
<circle cx="2155.7" cy="1157.8" r="4.3" fill="#ff0000"/>
<circle cx="2210.5" cy="1146.7" r="4.3" fill="#ff0000"/>
<circle cx="2210.5" cy="1157.8" r="4.3" fill="#ff0000"/>
<circle cx="2265.3" cy="1146.7" r="4.3" fill="#ff0000"/>
<circle cx="2265.3" cy="1157.8" r="4.3" fill="#ff0000"/>
<circle cx="2320.1" cy="1146.7" r="4.3" fill="#ff0000"/>
<circle cx="2320.1" cy="1157.8" r="4.3" fill="#ff0000"/>
<circle cx="2374.9" cy="1146.7" r="4.3" fill="#ff0000"/>
<circle cx="2374.9" cy="1157.8" r="4.3" fill="#ff0000"/>
<circle cx="2429.7" cy="1146.7" r="4.3" fill="#ff0000"/>
<circle cx="2429.7" cy="1157.8" r="4.3" fill="#ff0000"/>
<circle cx="2484.5" cy="1146.7" r="4.3" fill="#ff0000"/>
<circle cx="2484.5" cy="1157.8" r="4.3" fill="#ff0000"/>
<circle cx="2539.3" cy="1146.7" r="4.3" fill="#ff0000"/>
<circle cx="2539.3" cy="1157.8" r="4.3" fill="#ff0000"/>
<circle cx="2594.1" cy="1146.7" r="4.3" fill="#ff0000"/>
<circle cx="2594.1" cy="1157.8" r="4.3" fill="#ff0000"/>
<circle cx="2648.9" cy="1146.9" r="4.3" fill="#ff0000"/>
<circle cx="2648.9" cy="1157.4" r="4.3" fill="#ff0000"/>
<circle cx="2703.7" cy="1146" r="4.3" fill="#ff0000"/>
<circle cx="2703.7" cy="1154.8" r="4.3" fill="#ff0000"/>
</g>
<line x1="373.5" y1="1199.3" x2="3006.2" y2="1199.3" stroke="#262626" stroke-width="2.1"/>
<line x1="374.5" y1="1199.3" x2="374.5" y2="1172.8" stroke="#262626" stroke-width="2.1"/>
<text y="1264.8" font-size="47.6" fill="#262626"><tspan x="360.3" textLength="28.3" lengthAdjust="spacing">0</tspan></text>
<line x1="922.5" y1="1199.3" x2="922.5" y2="1172.8" stroke="#262626" stroke-width="2.1"/>
<text y="1264.8" font-size="47.6" fill="#262626"><tspan x="908.4" textLength="28.3" lengthAdjust="spacing">5</tspan></text>
<line x1="1470.6" y1="1199.3" x2="1470.6" y2="1172.8" stroke="#262626" stroke-width="2.1"/>
<text y="1264.8" font-size="47.6" fill="#262626"><tspan x="1442.3" textLength="56.6" lengthAdjust="spacing">10</tspan></text>
<line x1="2018.7" y1="1199.3" x2="2018.7" y2="1172.8" stroke="#262626" stroke-width="2.1"/>
<text y="1264.8" font-size="47.6" fill="#262626"><tspan x="1990.3" textLength="56.6" lengthAdjust="spacing">15</tspan></text>
<line x1="2566.7" y1="1199.3" x2="2566.7" y2="1172.8" stroke="#262626" stroke-width="2.1"/>
<text y="1264.8" font-size="47.6" fill="#262626"><tspan x="2538.4" textLength="56.6" lengthAdjust="spacing">20</tspan></text>
<text y="1327.9" font-size="47.6" fill="#262626"><tspan x="1421" textLength="88.2" lengthAdjust="spacingAndGlyphs">UTC</tspan><tspan x="1523.4" textLength="125.1" lengthAdjust="spacingAndGlyphs">hours</tspan><tspan x="1662.6" textLength="55.4" lengthAdjust="spacingAndGlyphs">on</tspan><tspan x="1732.2" textLength="226.5" lengthAdjust="spacing">20250730</tspan></text>
<line x1="374.5" y1="296.8" x2="374.5" y2="1200.3" stroke="#0072BD" stroke-width="2.3000000000000003"/>
<line x1="3005.2" y1="296.8" x2="3005.2" y2="1200.3" stroke="#0072BD" stroke-width="2.3000000000000003"/>
<line x1="374.5" y1="1144.4" x2="402" y2="1144.4" stroke="#0072BD" stroke-width="2.1"/>
<text y="1161.4" font-size="47.6" fill="#0072BD"><tspan x="320.7" textLength="28.3" lengthAdjust="spacing">0</tspan></text>
<line x1="374.5" y1="1001.3" x2="402" y2="1001.3" stroke="#0072BD" stroke-width="2.1"/>
<text y="1018.3" font-size="47.6" fill="#0072BD"><tspan x="264.1" textLength="84.9" lengthAdjust="spacing">100</tspan></text>
<line x1="374.5" y1="858.2" x2="402" y2="858.2" stroke="#0072BD" stroke-width="2.1"/>
<text y="875.2" font-size="47.6" fill="#0072BD"><tspan x="264.1" textLength="84.9" lengthAdjust="spacing">200</tspan></text>
<line x1="374.5" y1="715.1" x2="402" y2="715.1" stroke="#0072BD" stroke-width="2.1"/>
<text y="732.1" font-size="47.6" fill="#0072BD"><tspan x="264.1" textLength="84.9" lengthAdjust="spacing">300</tspan></text>
<line x1="374.5" y1="572" x2="402" y2="572" stroke="#0072BD" stroke-width="2.1"/>
<text y="589" font-size="47.6" fill="#0072BD"><tspan x="264.1" textLength="84.9" lengthAdjust="spacing">400</tspan></text>
<line x1="374.5" y1="428.9" x2="402" y2="428.9" stroke="#0072BD" stroke-width="2.1"/>
<text y="445.9" font-size="47.6" fill="#0072BD"><tspan x="264.1" textLength="84.9" lengthAdjust="spacing">500</tspan></text>
<rect x="375.3" y="297.9" width="692.9" height="908.6" fill="#ffff00" fill-opacity="0.15"/>
<rect x="2859.2" y="297.9" width="145.2" height="908.6" fill="#ffff00" fill-opacity="0.15"/>
<text y="1041.2" font-size="47.6" fill="#0072BD" transform="rotate(-90 235.2 1041.2)"><tspan x="235.2" textLength="61.1" lengthAdjust="spacingAndGlyphs">BB</tspan><tspan x="310.4" textLength="236.8" lengthAdjust="spacingAndGlyphs">Shortwave</tspan><tspan x="561.3" textLength="106.6" lengthAdjust="spacingAndGlyphs">Flux,</tspan><tspan x="682.1" textLength="102.3" lengthAdjust="spacingAndGlyphs">W/m</tspan></text>
<text y="488.7" font-size="40.6" fill="#0072BD" transform="rotate(-90 216.2 488.7)"><tspan x="216.2" textLength="24.1" lengthAdjust="spacing">2</tspan></text>
<line x1="1410.5" y1="418.4" x2="1601.5" y2="418.4" stroke="#ADD8E6" stroke-width="4.4"/>
<text y="431.9" font-size="41" fill="#000000"><tspan x="1619.4" textLength="152.2" lengthAdjust="spacingAndGlyphs">SKYRAD</tspan><tspan x="1783.8" textLength="62.2" lengthAdjust="spacingAndGlyphs">SW</tspan><tspan x="1858.1" textLength="108.5" lengthAdjust="spacingAndGlyphs">Down</tspan></text>
<line x1="1410.5" y1="472.2" x2="1601.5" y2="472.2" stroke="#0000FF" stroke-width="8.6"/>
<text y="485.7" font-size="41" fill="#000000"><tspan x="1619.4" textLength="152.2" lengthAdjust="spacingAndGlyphs">SKYRAD</tspan><tspan x="1783.8" textLength="62.2" lengthAdjust="spacingAndGlyphs">SW</tspan><tspan x="1858.1" textLength="108.5" lengthAdjust="spacingAndGlyphs">Down</tspan></text>
<line x1="1410.5" y1="526.4" x2="1601.5" y2="526.4" stroke="#EE82EE" stroke-width="6.5"/>
<text y="539.9" font-size="41" fill="#000000"><tspan x="1619.4" textLength="98.4" lengthAdjust="spacingAndGlyphs">SEBS</tspan><tspan x="1730" textLength="62.2" lengthAdjust="spacingAndGlyphs">SW</tspan><tspan x="1804.4" textLength="108.5" lengthAdjust="spacingAndGlyphs">Down</tspan></text>
<line x1="1410.5" y1="580.4" x2="1601.5" y2="580.4" stroke="#FFA500" stroke-width="8.6"/>
<text y="593.9" font-size="41" fill="#000000"><tspan x="1619.4" textLength="168.6" lengthAdjust="spacingAndGlyphs">GNDRAD</tspan><tspan x="1800.1" textLength="62.2" lengthAdjust="spacingAndGlyphs">SW</tspan><tspan x="1874.5" textLength="52.3" lengthAdjust="spacingAndGlyphs">Up</tspan></text>
<line x1="1410.5" y1="634.5" x2="1601.5" y2="634.5" stroke="#A52A2A" stroke-width="4.4"/>
<text y="648" font-size="41" fill="#000000"><tspan x="1619.4" textLength="98.4" lengthAdjust="spacingAndGlyphs">SEBS</tspan><tspan x="1730" textLength="62.2" lengthAdjust="spacingAndGlyphs">SW</tspan><tspan x="1804.4" textLength="52.3" lengthAdjust="spacingAndGlyphs">Up</tspan></text>
</g>
<g>
<g clip-path="url(#c1)">
<path d="M374.5 2267.1 L380 2265 L385.5 2266.6 L390.9 2268.1 L396.4 2271.3 L410.7 2273.4 L412.9 2258.1 L415.1 2274.5 L423.8 2277.6 L434.8 2279.7 L442.5 2271 L444.9 2270.1 L447.3 2270.5 L449.8 2270.2 L452.2 2269.5 L454.6 2269.8 L457.1 2269.3 L459.5 2268.8 L461.9 2268.5 L464.4 2269 L466.8 2268.8 L469.3 2268.9 L471.7 2268 L474.1 2267.9 L476.6 2268.2 L479 2268.8 L481.4 2267.5 L483.9 2266.7 L486.3 2266.3 L488.7 2265.8 L491.2 2265.2 L493.6 2265.7 L496 2264.6 L498.5 2263 L500.9 2263.1 L503.4 2262.6 L505.8 2262.9 L508.2 2261.9 L510.7 2260.9 L513.1 2261 L515.5 2260.8 L518 2259.2 L520.4 2258.2 L522.8 2256.8 L525.3 2257 L527.7 2255.9 L530.1 2254.3 L532.6 2253.5 L535 2253.2 L537.5 2253.3 L539.9 2255.9 L542.3 2255.4 L544.8 2253.6 L547.2 2255.3 L549.6 2252.6 L552.1 2254 L554.5 2254.5 L556.9 2253.8 L559.4 2253.9 L561.8 2256.1 L564.2 2255.2 L566.7 2254.9 L569.1 2254.9 L571.6 2254.1 L574 2255.1 L576.4 2256.9 L578.9 2255.7 L581.3 2256.5 L583.7 2253.9 L586.2 2254.7 L588.6 2254.9 L591 2255.3 L593.5 2253.7 L595.9 2253.8 L598.3 2252.5 L600.8 2252.3 L603.2 2249.7 L605.7 2251.6 L608.1 2249.1 L610.5 2248.1 L613 2246.4 L615.4 2247.2 L617.8 2248.1 L620.3 2249.9 L622.7 2252.4 L625.1 2251.7 L627.6 2250.5 L630 2249.7 L632.4 2250.6 L634.9 2249.8 L637.3 2249.7 L639.8 2248.2 L642.2 2248 L644.6 2249.7 L647.1 2252.2 L649.5 2253.8 L651.9 2254.4 L654.4 2254.3 L656.8 2253.6 L659.2 2254.1 L661.7 2252.4 L664.1 2252.9 L666.5 2251.3 L669 2249.7 L671.4 2250 L673.9 2248.5 L676.3 2251.5 L678.7 2252.7 L681.2 2252.7 L683.6 2253.4 L686 2256 L688.5 2255.4 L690.9 2255.1 L693.3 2253.7 L695.8 2252.5 L698.2 2252.2 L700.7 2253.9 L703.1 2254.9 L705.5 2255 L708 2254.3 L710.4 2253.7 L712.8 2250.6 L715.3 2252.7 L717.7 2250.9 L720.1 2252.6 L722.6 2250.7 L725 2248.9 L727.4 2251.9 L729.9 2252.8 L732.3 2252.8 L734.8 2253.2 L737.2 2253.6 L739.6 2253.9 L742.1 2254 L744.5 2254 L746.9 2254.4 L749.4 2254.5 L751.8 2256.2 L754.2 2256.2 L756.7 2256.3 L759.1 2256.1 L761.5 2256.8 L764 2257.4 L766.4 2258.4 L768.9 2259 L771.3 2259.2 L773.7 2259.8 L776.2 2259.2 L778.6 2259.4 L781 2259.3 L783.5 2260.5 L785.9 2261.6 L788.3 2262.1 L790.8 2262.6 L793.2 2263.2 L795.6 2262.7 L798.1 2263.2 L800.5 2263.4 L803 2262 L805.4 2261.7 L807.8 2261.4 L810.3 2261.1 L812.7 2261.4 L815.1 2260.9 L817.6 2260.7 L820 2261.4 L822.4 2262 L824.9 2268.3 L827.3 2266.5 L829.7 2266.2 L832.2 2265.5 L834.6 2263.4 L837.1 2262.9 L839.5 2262.8 L841.9 2262.5 L844.4 2262.4 L846.8 2263.6 L849.2 2262.4 L851.7 2262.1 L854.1 2263.3 L856.5 2261.3 L859 2261.4 L861.4 2262.2 L863.8 2260.5 L866.3 2259.3 L868.7 2261.6 L871.2 2261.3 L873.6 2260.5 L876 2259.3 L878.5 2258.1 L880.9 2260.1 L883.3 2259.7 L885.8 2258.6 L888.2 2257.7 L890.6 2254.5 L893.1 2255.7 L895.5 2258 L897.9 2257.8 L900.4 2257.2 L902.8 2254.9 L905.3 2254.3 L907.7 2255.7 L910.1 2256.2 L912.6 2257.9 L915 2257.2 L917.4 2257.7 L919.9 2259 L922.3 2260.1 L924.7 2259.9 L927.2 2260 L929.6 2258.6 L932 2260.6 L934.5 2260.8 L936.9 2261.7 L939.4 2262.2 L941.8 2262.8 L944.2 2261.2 L946.7 2260.4 L949.1 2259.3 L951.5 2258.4 L954 2257.5 L956.4 2256.1 L958.8 2259 L961.3 2256.6 L963.7 2255.8 L966.2 2257.3 L968.6 2257.4 L971 2256.1 L973.5 2251.6 L975.9 2252.9 L978.3 2257.1 L980.8 2257.2 L983.2 2257.1 L985.6 2256.9 L988.1 2256.9 L990.5 2256.4 L992.9 2257.2 L995.4 2257.4 L997.8 2257.5 L1000.3 2258.1 L1002.7 2258.6 L1005.1 2259.3 L1007.6 2259.1 L1010 2259.2 L1012.4 2258.9 L1014.9 2259.3 L1017.3 2258.4 L1019.7 2259.1 L1022.2 2255.9 L1024.6 2255.9 L1027 2256.7 L1029.5 2256 L1031.9 2258.9 L1034.4 2258.7 L1036.8 2257.8 L1039.2 2256.7 L1041.7 2258 L1044.1 2256.3 L1046.5 2256.1 L1049 2255.7 L1051.4 2254.7 L1053.8 2256.4 L1056.3 2258.6 L1058.7 2257.9 L1061.1 2256.3 L1063.6 2258.3 L1066 2260.4 L1068.5 2260.4 L1070.9 2260.7 L1073.3 2261.3 L1075.8 2258.8 L1078.2 2259.5 L1080.6 2259 L1083.1 2257.9 L1085.5 2259.7 L1087.9 2260.5 L1090.4 2261 L1092.8 2261.5 L1095.2 2260.5 L1097.7 2259.8 L1100.1 2260.5 L1102.6 2260.7 L1105 2260.6 L1107.4 2261.6 L1109.9 2262.3 L1112.3 2262 L1114.7 2262.3 L1117.2 2263.3 L1119.6 2262.9 L1122 2263.4 L1124.5 2262.7 L1126.9 2262.3 L1129.3 2263 L1131.8 2263.7 L1134.2 2263.7 L1136.7 2264.2 L1139.1 2265.1 L1141.5 2264.8 L1144 2264.4 L1146.4 2263.9 L1148.8 2263.4 L1151.3 2263.1 L1153.7 2263.8 L1156.1 2264.1 L1158.6 2265.3 L1161 2265.2 L1163.4 2265.7 L1165.9 2266.1 L1168.3 2265.8 L1170.8 2265.3 L1173.2 2265.1 L1175.6 2265.1 L1178.1 2264.1 L1180.5 2262 L1182.9 2262.2 L1185.4 2262.8 L1187.8 2261.5 L1190.2 2259.3 L1192.7 2260.4 L1195.1 2262.1 L1197.5 2260.9 L1200 2262.6 L1202.4 2262 L1204.9 2263.2 L1207.3 2261.5 L1209.7 2261.7 L1212.2 2263.4 L1214.6 2265 L1217 2264 L1219.5 2265.8 L1221.9 2264.3 L1224.3 2264.5 L1226.8 2264.1 L1229.2 2264.6 L1231.7 2262.7 L1234.1 2264.7 L1236.5 2265.8 L1239 2265.6 L1241.4 2264.9 L1243.8 2264.2 L1246.3 2264.5 L1248.7 2263.5 L1251.1 2263.7 L1253.6 2262.9 L1256 2262 L1258.4 2262.3 L1260.9 2262.5 L1263.3 2261.2 L1265.8 2261.2 L1268.2 2261 L1270.6 2261.8 L1273.1 2261.7 L1275.5 2261.4 L1277.9 2259.3 L1280.4 2259.9 L1282.8 2258.9 L1285.2 2258.6 L1287.7 2259.2 L1290.1 2259.4 L1292.5 2258 L1295 2258.6 L1297.4 2257.9 L1299.9 2257.8 L1302.3 2255.8 L1304.7 2256.4 L1307.2 2259.1 L1309.6 2257.1 L1312 2257 L1314.5 2253.2 L1316.9 2254.7 L1319.3 2257 L1321.8 2254.2 L1324.2 2255.8 L1326.6 2258.2 L1329.1 2257.9 L1331.5 2257.8 L1334 2257.3 L1336.4 2258.9 L1338.8 2259.4 L1341.3 2258.8 L1343.7 2258.2 L1346.1 2257.6 L1348.6 2258.2 L1351 2258.2 L1353.4 2259.8 L1355.9 2260.4 L1358.3 2260.4 L1360.7 2260.3 L1363.2 2261.1 L1365.6 2261.4 L1368.1 2261.8 L1370.5 2261.7 L1372.9 2261.9 L1375.4 2261.1 L1377.8 2260.8 L1380.2 2260 L1382.7 2259.2 L1385.1 2258.2 L1387.5 2258.9 L1390 2259.8 L1392.4 2260.2 L1394.8 2260.1 L1397.3 2260 L1399.7 2259.7 L1402.2 2260.3 L1404.6 2259.7 L1407 2260.4 L1409.5 2260.8 L1411.9 2260 L1414.3 2259.4 L1416.8 2259.1 L1419.2 2260 L1421.6 2258.9 L1424.1 2258.4 L1426.5 2257.7 L1428.9 2259.2 L1431.4 2259.1 L1433.8 2255.9 L1436.3 2257.7 L1438.7 2258.4 L1441.1 2255.6 L1443.6 2257.3 L1446 2257 L1448.4 2256.9 L1450.9 2254.5 L1453.3 2255.3 L1455.7 2255.3 L1458.2 2256.8 L1460.6 2258.5 L1463 2257.5 L1465.5 2261.1 L1467.9 2261.2 L1470.4 2261.5 L1472.8 2262.3 L1475.2 2262 L1477.7 2262.4 L1480.1 2263.3 L1482.5 2261.4 L1485 2259.2 L1487.4 2258.7 L1489.8 2259.8 L1492.3 2260.3 L1494.7 2260.1 L1497.1 2259.2 L1499.6 2256.8 L1502 2256.6 L1504.5 2256.3 L1506.9 2255.2 L1509.3 2254.5 L1511.8 2254.5 L1514.2 2255 L1516.6 2257.1 L1519.1 2257.4 L1521.5 2258.1 L1523.9 2257.7 L1526.4 2258.9 L1528.8 2258.7 L1531.3 2258.4 L1533.7 2258.4 L1536.1 2258.2 L1538.6 2258.2 L1541 2258 L1543.4 2258.4 L1545.9 2258.1 L1548.3 2258.1 L1550.7 2257.1 L1553.2 2257.9 L1555.6 2257.1 L1558 2257.9 L1560.5 2257.9 L1562.9 2258.1 L1565.4 2258.6 L1567.8 2259.5 L1570.2 2259.9 L1572.7 2259.4 L1575.1 2260.1 L1577.5 2259 L1580 2259.1 L1582.4 2259.3 L1584.8 2260.8 L1587.3 2260.3 L1589.7 2260.6 L1592.1 2261 L1594.6 2261 L1597 2260.2 L1599.5 2260 L1601.9 2260.5 L1604.3 2261.4 L1606.8 2262 L1609.2 2262.6 L1611.6 2262.6 L1614.1 2262 L1616.5 2261.9 L1618.9 2261.1 L1621.4 2262 L1623.8 2263.5 L1626.2 2262.6 L1628.7 2262.6 L1631.1 2261.8 L1633.6 2261.4 L1636 2261.3 L1638.4 2261.2 L1640.9 2261.1 L1643.3 2260.9 L1645.7 2261.5 L1648.2 2261.7 L1650.6 2260.7 L1653 2261.2 L1655.5 2260.6 L1657.9 2260.7 L1660.3 2259.9 L1662.8 2260.3 L1665.2 2259.4 L1667.7 2260 L1670.1 2260.4 L1672.5 2259.9 L1675 2258.8 L1677.4 2259.7 L1679.8 2259.5 L1682.3 2260 L1684.7 2260.2 L1687.1 2259.6 L1689.6 2260.6 L1692 2260.4 L1694.4 2261.5 L1696.9 2261.5 L1699.3 2262.1 L1701.8 2261.2 L1704.2 2261.4 L1706.6 2262.3 L1709.1 2263.3 L1711.5 2263.2 L1713.9 2263.4 L1716.4 2262.6 L1718.8 2262.1 L1721.2 2261.8 L1723.7 2262.1 L1726.1 2261.5 L1728.5 2261.6 L1731 2261.3 L1733.4 2260.4 L1735.9 2260.1 L1738.3 2260.2 L1740.7 2260.8 L1743.2 2261.7 L1745.6 2263.2 L1748 2262.9 L1750.5 2263.3 L1752.9 2263.8 L1755.3 2263 L1757.8 2263.6 L1760.2 2263.4 L1762.6 2264.2 L1765.1 2263.5 L1767.5 2262.7 L1770 2261.3 L1772.4 2261.6 L1774.8 2261.2 L1777.3 2261.5 L1779.7 2262.4 L1782.1 2262.3 L1784.6 2260.7 L1787 2259.7 L1789.4 2260.9 L1791.9 2260.2 L1794.3 2259.8 L1796.8 2260.1 L1799.2 2260.6 L1801.6 2262 L1804.1 2263 L1806.5 2264.3 L1808.9 2265.4 L1811.4 2266 L1813.8 2265.2 L1816.2 2266.3 L1818.7 2266 L1821.1 2266.3 L1823.5 2267.8 L1826 2267.1 L1828.4 2268.1 L1830.9 2268.4 L1833.3 2268.3 L1835.7 2269 L1838.2 2268.6 L1840.6 2268.5 L1843 2267.8 L1845.5 2268.9 L1847.9 2269.3 L1850.3 2269.2 L1852.8 2269 L1855.2 2268.4 L1857.6 2268.6 L1860.1 2267.6 L1862.5 2269.1 L1865 2268.8 L1867.4 2269.9 L1869.8 2270 L1872.3 2269.7 L1874.7 2271.1 L1877.1 2271.2 L1879.6 2270.9 L1882 2271.1 L1884.4 2271.3 L1886.9 2270.7 L1889.3 2271.2 L1891.7 2270.4 L1894.2 2270.4 L1896.6 2271.1 L1899.1 2271.9 L1901.5 2273.3 L1903.9 2272.7 L1906.4 2273.4 L1908.8 2273.1 L1911.2 2273.7 L1913.7 2273.4 L1916.1 2273.3 L1918.5 2273.5 L1921 2273.3 L1923.4 2273 L1925.8 2273.1 L1928.3 2273.3 L1930.7 2273.3 L1933.2 2273 L1935.6 2273.5 L1938 2274.3 L1940.5 2273.6 L1942.9 2274.2 L1945.3 2274.8 L1947.8 2275.5 L1950.2 2275.3 L1952.6 2276.4 L1955.1 2276.3 L1957.5 2276.7 L1959.9 2275.9 L1962.4 2276 L1964.8 2276.5 L1967.3 2277.2 L1969.7 2278.2 L1972.1 2277.3 L1974.6 2277.4 L1977 2278 L1979.4 2277.3 L1981.9 2277.1 L1984.3 2278.2 L1986.7 2279.1 L1989.2 2279 L1991.6 2278.9 L1994 2278 L1996.5 2278.4 L1998.9 2278.6 L2001.4 2279 L2003.8 2280.2 L2006.2 2279.5 L2008.7 2278 L2011.1 2277.8 L2013.5 2276.5 L2016 2275.8 L2018.4 2275.5 L2020.8 2275.5 L2023.3 2274.2 L2025.7 2273.5 L2028.1 2274.2 L2030.6 2273.9 L2033 2275.4 L2035.5 2276.3 L2037.9 2276.9 L2040.3 2277 L2042.8 2275.4 L2045.2 2276 L2047.6 2276.4 L2050.1 2275.7 L2052.5 2276 L2054.9 2275.7 L2057.4 2275.4 L2059.8 2276.3 L2062.3 2276.9 L2064.7 2277.7 L2067.1 2277.2 L2069.6 2277.4 L2072 2277.8 L2074.4 2277.9 L2076.9 2277.5 L2079.3 2277.1 L2081.7 2278.1 L2084.2 2277.7 L2086.6 2278 L2089 2278.3 L2091.5 2277.5 L2093.9 2277.2 L2096.4 2277.5 L2098.8 2277.6 L2101.2 2277.3 L2103.7 2277 L2106.1 2277.3 L2108.5 2276.6 L2111 2276.6 L2113.4 2275.9 L2115.8 2275.6 L2118.3 2273.9 L2120.7 2275.6 L2123.1 2276.2 L2125.6 2276.9 L2128 2276.8 L2130.5 2276.4 L2132.9 2277.1 L2135.3 2277.2 L2137.8 2276.5 L2140.2 2275.8 L2142.6 2276.5 L2145.1 2277.4 L2147.5 2277.4 L2149.9 2276.6 L2152.4 2277.2 L2154.8 2277.4 L2157.2 2275.8 L2159.7 2276.1 L2162.1 2275.8 L2164.6 2275.4 L2167 2274.1 L2169.4 2274.6 L2171.9 2274.8 L2174.3 2275.2 L2176.7 2275.4 L2179.2 2275.2 L2181.6 2275.8 L2184 2275.4 L2186.5 2275.2 L2188.9 2273.6 L2191.3 2273.7 L2193.8 2273.5 L2196.2 2273.5 L2198.7 2273.9 L2201.1 2272.6 L2203.5 2272.5 L2206 2271.4 L2208.4 2271.6 L2210.8 2271.9 L2213.3 2271.9 L2215.7 2271.7 L2218.1 2271.6 L2220.6 2271.6 L2223 2269.9 L2225.4 2270.5 L2227.9 2270.8 L2230.3 2270.7 L2232.8 2269.8 L2235.2 2270.1 L2237.6 2269.3 L2240.1 2269.8 L2242.5 2269 L2244.9 2269 L2247.4 2268.8 L2249.8 2269.2 L2252.2 2269.5 L2254.7 2268.6 L2257.1 2269.1 L2259.5 2269.1 L2262 2269.7 L2264.4 2270.8 L2266.9 2270.8 L2269.3 2271.4 L2271.7 2272.7 L2274.2 2272.5 L2276.6 2272.5 L2279 2272.1 L2281.5 2271.1 L2283.9 2270.7 L2286.3 2270.7 L2288.8 2270.9 L2291.2 2270.7 L2293.6 2268.9 L2296.1 2267.4 L2298.5 2270.6 L2301 2270.3 L2303.4 2271.9 L2305.8 2271.9 L2308.3 2268.1 L2310.7 2268.6 L2313.1 2271.1 L2315.6 2271.4 L2318 2273.8 L2320.4 2273.7 L2322.9 2272.6 L2325.3 2272.6 L2327.8 2270.6 L2330.2 2270.1 L2332.6 2270.8 L2335.1 2269.4 L2337.5 2268.3 L2339.9 2268.8 L2342.4 2265.6 L2344.8 2266.4 L2347.2 2268.2 L2349.7 2268.9 L2352.1 2265.6 L2354.5 2266.3 L2357 2265.5 L2359.4 2266.7 L2361.9 2265.9 L2364.3 2265.1 L2366.7 2263.1 L2369.2 2262 L2371.6 2261.4 L2374 2260.8 L2376.5 2261 L2378.9 2260.3 L2381.3 2257.6 L2383.8 2258.6 L2386.2 2260.2 L2388.6 2256.4 L2391.1 2254.2 L2393.5 2255.5 L2396 2255.4 L2398.4 2253.7 L2400.8 2254.9 L2403.3 2255 L2405.7 2253.8 L2408.1 2252.7 L2410.6 2251.6 L2413 2252.2 L2415.4 2253.8 L2417.9 2254.8 L2420.3 2254.1 L2422.7 2253.2 L2425.2 2254.3 L2427.6 2256.7 L2430.1 2253.2 L2432.5 2252.3 L2434.9 2251.4 L2437.4 2250.6 L2439.8 2251.6 L2442.2 2253.7 L2444.7 2253.5 L2447.1 2251.7 L2449.5 2251.5 L2452 2252.8 L2454.4 2254.6 L2456.8 2255.4 L2459.3 2256.9 L2461.7 2258.8 L2464.2 2259 L2466.6 2257.5 L2469 2257.2 L2471.5 2257.9 L2473.9 2260.8 L2476.3 2260.2 L2478.8 2259.4 L2481.2 2258.6 L2483.6 2259.4 L2486.1 2260.2 L2488.5 2258.9 L2490.9 2259 L2493.4 2256.6 L2495.8 2254.9 L2498.3 2253.5 L2500.7 2253.5 L2503.1 2254.5 L2505.6 2254.8 L2508 2253.3 L2510.4 2253.6 L2512.9 2251.8 L2515.3 2251.5 L2517.7 2250.1 L2520.2 2248.5 L2522.6 2249.5 L2525 2249.4 L2527.5 2250 L2529.9 2251.7 L2532.4 2252 L2534.8 2252.1 L2537.2 2255.6 L2539.7 2255.4 L2542.1 2255.1 L2544.5 2253.9 L2547 2251.8 L2549.4 2247.9 L2551.8 2249.2 L2554.3 2251.9 L2556.7 2252.5 L2559.1 2249.1 L2561.6 2248.4 L2564 2250.1 L2566.5 2251.8 L2568.9 2252.4 L2571.3 2251.9 L2573.8 2250.9 L2576.2 2252.2 L2578.6 2250.9 L2581.1 2249.1 L2583.5 2247 L2585.9 2248.9 L2588.4 2249.1 L2590.8 2250.1 L2593.2 2249.9 L2595.7 2252 L2598.1 2252.5 L2600.6 2254.9 L2603 2255.1 L2605.4 2254.5 L2607.9 2253.8 L2610.3 2254.9 L2612.7 2256 L2615.2 2256.9 L2617.6 2259 L2620 2258.8 L2622.5 2258.3 L2624.9 2257 L2627.4 2257.7 L2629.8 2259.8 L2632.2 2258 L2634.7 2259.7 L2637.1 2258.8 L2639.5 2259 L2642 2262.2 L2644.4 2262.3 L2646.8 2262.5 L2649.3 2262.1 L2651.7 2260.2 L2654.1 2258.6 L2656.6 2259.6 L2659 2259.6 L2661.5 2260 L2663.9 2257.7 L2666.3 2257.4 L2668.8 2257.6 L2671.2 2257.7 L2673.6 2258.6 L2676.1 2259.2 L2678.5 2259.9 L2680.9 2260 L2683.4 2259.7 L2685.8 2261.2 L2688.2 2263.1 L2690.7 2261.9 L2693.1 2261.4 L2695.6 2262.7 L2698 2262.9 L2700.4 2261.8 L2702.9 2261.6 L2705.3 2262.4 L2707.7 2263.4 L2710.2 2265 L2712.6 2264.6 L2715 2261.7 L2717.5 2261.6 L2719.9 2263.1 L2722.3 2264.1 L2724.8 2266.4 L2727.2 2267 L2729.7 2263.5 L2732.1 2263.4 L2734.5 2264.6 L2737 2264.5 L2739.4 2264.3 L2741.8 2266.9 L2744.3 2267.6 L2746.7 2267.3 L2749.1 2268.9 L2751.6 2268.8 L2754 2270 L2756.4 2270.9 L2758.9 2272.2 L2761.3 2272.6 L2763.8 2272.5 L2766.2 2271.6 L2768.6 2272.2 L2771.1 2272.8 L2773.5 2273.3 L2775.9 2276.2 L2778.4 2278.2 L2780.8 2276.2 L2783.2 2275.1 L2785.7 2274.9 L2788.1 2274.8 L2790.5 2273.6 L2793 2275.4 L2795.4 2274.3 L2797.9 2275.5 L2800.3 2276.8 L2802.7 2278.7 L2805.2 2279.8 L2807.6 2277.7 L2810 2278.1 L2812.5 2279.5 L2814.9 2279.8 L2817.3 2279.3 L2819.8 2278.7 L2822.2 2279 L2824.6 2279.4 L2827.1 2279 L2829.5 2277.8 L2832 2277.8 L2834.4 2277.2 L2836.8 2276.7 L2839.3 2277.4 L2841.7 2278.4 L2844.1 2278.9 L2846.6 2278.5 L2849 2278.9 L2851.4 2278.4 L2853.9 2278.6 L2856.3 2278.3 L2858.7 2277.8 L2861.2 2277.6 L2863.6 2277.5 L2866.1 2277.7 L2868.5 2276.3 L2870.9 2276.1 L2873.4 2275.5 L2875.8 2275.6 L2878.2 2275.7 L2880.7 2275.5 L2883.1 2275.2 L2885.5 2274.5 L2888 2274.6 L2890.4 2274.1 L2892.9 2273.7 L2895.3 2272 L2897.7 2271.3 L2900.2 2271.2 L2902.6 2271 L2905 2271.6 L2907.5 2271.9 L2909.9 2271.1 L2912.3 2270.5 L2914.8 2269.4 L2917.2 2269.5 L2919.6 2270 L2922.1 2269.7 L2924.5 2269 L2927 2268.5 L2929.4 2267.6 L2931.8 2267.1 L2934.3 2267.4 L2936.7 2267.1 L2939.1 2266.3 L2941.6 2266.8 L2944 2266.8 L2946.4 2266.6 L2948.9 2266.1 L2951.3 2265.9 L2953.7 2265.4 L2956.2 2264.5 L2958.6 2264.9 L2961.1 2264 L2963.5 2263 L2965.9 2262.2 L2968.4 2262.2 L2970.8 2261.2 L2973.2 2261.6 L2975.7 2261.1 L2978.1 2262.1 L3005.1 2258.4" fill="none" stroke="#ADD8E6" stroke-width="4.4" stroke-linejoin="round"/>
<path d="M374.5 2243.9 L380 2242.3 L385.5 2243.4 L390.9 2245.5 L396.4 2248.1 L410.7 2250.2 L414 2204.4 L417.2 2253.4 L423.8 2257.6 L434.8 2259.2 L442.5 2251.6 L444.9 2250.9 L447.3 2251.4 L449.8 2251.2 L452.2 2250.6 L454.6 2251 L457.1 2250.6 L459.5 2250.1 L461.9 2249.9 L464.4 2250.4 L466.8 2250.2 L469.3 2250.3 L471.7 2249.4 L474.1 2249.2 L476.6 2249.6 L479 2250.2 L481.4 2248.8 L483.9 2248 L486.3 2247.5 L488.7 2247.1 L491.2 2246.4 L493.6 2246.9 L496 2245.8 L498.5 2244.1 L500.9 2244.3 L503.4 2243.7 L505.8 2244 L508.2 2243 L510.7 2241.9 L513.1 2242 L515.5 2241.7 L518 2240.1 L520.4 2239 L522.8 2237.6 L525.3 2237.8 L527.7 2236.6 L530.1 2235 L532.6 2234.1 L535 2233.7 L537.5 2233.8 L539.9 2236.4 L542.3 2235.8 L544.8 2234 L547.2 2235.7 L549.6 2232.9 L552.1 2234.3 L554.5 2234.7 L556.9 2234 L559.4 2234 L561.8 2236.3 L564.2 2235.3 L566.7 2234.9 L569.1 2235 L571.6 2234.2 L574 2235.2 L576.4 2237 L578.9 2235.8 L581.3 2236.7 L583.7 2234.1 L586.2 2234.9 L588.6 2235.1 L591 2235.5 L593.5 2234 L595.9 2234.1 L598.3 2232.7 L600.8 2232.6 L603.2 2230 L605.7 2231.9 L608.1 2229.5 L610.5 2228.5 L613 2226.8 L615.4 2227.6 L617.8 2228.5 L620.3 2230.3 L622.7 2232.8 L625.1 2232.1 L627.6 2230.8 L630 2230 L632.4 2230.9 L634.9 2230.1 L637.3 2229.9 L639.8 2228.4 L642.2 2228.1 L644.6 2229.8 L647.1 2232.2 L649.5 2233.8 L651.9 2234.4 L654.4 2234.1 L656.8 2233.4 L659.2 2233.9 L661.7 2232.1 L664.1 2232.6 L666.5 2230.9 L669 2229.3 L671.4 2229.5 L673.9 2228 L676.3 2230.9 L678.7 2232.2 L681.2 2232.1 L683.6 2232.8 L686 2235.4 L688.5 2234.8 L690.9 2234.4 L693.3 2233 L695.8 2231.8 L698.2 2231.4 L700.7 2233.1 L703.1 2234.1 L705.5 2234.2 L708 2233.4 L710.4 2232.8 L712.8 2229.7 L715.3 2231.7 L717.7 2230 L720.1 2231.6 L722.6 2229.7 L725 2227.9 L727.4 2230.9 L729.9 2231.8 L732.3 2231.7 L734.8 2232.1 L737.2 2232.5 L739.6 2232.7 L742.1 2232.8 L744.5 2232.8 L746.9 2233.2 L749.4 2233.2 L751.8 2235 L754.2 2234.9 L756.7 2234.9 L759.1 2234.8 L761.5 2235.4 L764 2236 L766.4 2236.9 L768.9 2237.6 L771.3 2237.8 L773.7 2238.3 L776.2 2237.7 L778.6 2237.8 L781 2237.7 L783.5 2238.9 L785.9 2240 L788.3 2240.5 L790.8 2241 L793.2 2241.6 L795.6 2241 L798.1 2241.4 L800.5 2241.6 L803 2240.3 L805.4 2239.9 L807.8 2239.6 L810.3 2239.3 L812.7 2239.6 L815.1 2239 L817.6 2238.8 L820 2239.5 L822.4 2240.1 L824.9 2246.3 L827.3 2244.5 L829.7 2244.2 L832.2 2243.5 L834.6 2241.4 L837.1 2240.8 L839.5 2240.7 L841.9 2240.5 L844.4 2240.3 L846.8 2241.6 L849.2 2240.4 L851.7 2240.1 L854.1 2241.3 L856.5 2239.3 L859 2239.5 L861.4 2240.3 L863.8 2238.5 L866.3 2237.4 L868.7 2239.7 L871.2 2239.5 L873.6 2238.6 L876 2237.5 L878.5 2236.3 L880.9 2238.3 L883.3 2237.9 L885.8 2236.9 L888.2 2236 L890.6 2232.7 L893.1 2234 L895.5 2236.3 L897.9 2236 L900.4 2235.3 L902.8 2233 L905.3 2232.4 L907.7 2233.7 L910.1 2234.1 L912.6 2235.8 L915 2235.1 L917.4 2235.5 L919.9 2236.7 L922.3 2237.8 L924.7 2237.5 L927.2 2237.4 L929.6 2236 L932 2237.9 L934.5 2238 L936.9 2238.9 L939.4 2239.4 L941.8 2239.9 L944.2 2238.2 L946.7 2237.4 L949.1 2236.3 L951.5 2235.3 L954 2234.3 L956.4 2233 L958.8 2235.8 L961.3 2233.4 L963.7 2232.6 L966.2 2234.1 L968.6 2234.2 L971 2232.9 L973.5 2228.4 L975.9 2229.7 L978.3 2233.9 L980.8 2234 L983.2 2234 L985.6 2233.7 L988.1 2233.7 L990.5 2233.2 L992.9 2234 L995.4 2234.2 L997.8 2234.3 L1000.3 2234.9 L1002.7 2235.5 L1005.1 2236.2 L1007.6 2236 L1010 2236.1 L1012.4 2235.8 L1014.9 2236.2 L1017.3 2235.4 L1019.7 2236.1 L1022.2 2232.9 L1024.6 2232.9 L1027 2233.7 L1029.5 2233 L1031.9 2236 L1034.4 2235.8 L1036.8 2234.9 L1039.2 2233.8 L1041.7 2235.2 L1044.1 2233.5 L1046.5 2233.4 L1049 2233 L1051.4 2232 L1053.8 2233.7 L1056.3 2236 L1058.7 2235.3 L1061.1 2233.8 L1063.6 2235.8 L1066 2238 L1068.5 2238 L1070.9 2238.4 L1073.3 2239 L1075.8 2236.7 L1078.2 2237.3 L1080.6 2236.9 L1083.1 2236 L1085.5 2237.8 L1087.9 2238.6 L1090.4 2239.2 L1092.8 2239.8 L1095.2 2238.9 L1097.7 2238.3 L1100.1 2239.1 L1102.6 2239.3 L1105 2239.3 L1107.4 2240.3 L1109.9 2241.1 L1112.3 2240.9 L1114.7 2241.3 L1117.2 2242.4 L1119.6 2242.1 L1122 2242.7 L1124.5 2242.1 L1126.9 2241.8 L1129.3 2242.6 L1131.8 2243.4 L1134.2 2243.5 L1136.7 2244.1 L1139.1 2245.2 L1141.5 2245 L1144 2244.7 L1146.4 2244.3 L1148.8 2243.9 L1151.3 2243.7 L1153.7 2244.6 L1156.1 2244.9 L1158.6 2246.2 L1161 2246.2 L1163.4 2246.9 L1165.9 2247.3 L1168.3 2247.2 L1170.8 2246.8 L1173.2 2246.7 L1175.6 2246.7 L1178.1 2245.9 L1180.5 2243.9 L1182.9 2244.2 L1185.4 2244.9 L1187.8 2243.7 L1190.2 2241.6 L1192.7 2242.8 L1195.1 2244.6 L1197.5 2243.5 L1200 2245.3 L1202.4 2244.8 L1204.9 2246.1 L1207.3 2244.5 L1209.7 2244.8 L1212.2 2246.6 L1214.6 2248.3 L1217 2247.3 L1219.5 2249.2 L1221.9 2247.8 L1224.3 2248 L1226.8 2247.7 L1229.2 2248.2 L1231.7 2246.3 L1234.1 2248.4 L1236.5 2249.5 L1239 2249.4 L1241.4 2248.7 L1243.8 2248 L1246.3 2248.4 L1248.7 2247.4 L1251.1 2247.6 L1253.6 2246.9 L1256 2245.9 L1258.4 2246.3 L1260.9 2246.5 L1263.3 2245.2 L1265.8 2245.3 L1268.2 2245.1 L1270.6 2245.9 L1273.1 2245.8 L1275.5 2245.5 L1277.9 2243.5 L1280.4 2244.1 L1282.8 2243.1 L1285.2 2242.8 L1287.7 2243.5 L1290.1 2243.7 L1292.5 2242.3 L1295 2242.9 L1297.4 2242.3 L1299.9 2242.2 L1302.3 2240.2 L1304.7 2240.9 L1307.2 2243.6 L1309.6 2241.7 L1312 2241.5 L1314.5 2237.8 L1316.9 2239.3 L1319.3 2241.6 L1321.8 2238.8 L1324.2 2240.4 L1326.6 2242.9 L1329.1 2242.6 L1331.5 2242.6 L1334 2242 L1336.4 2243.7 L1338.8 2244.3 L1341.3 2243.7 L1343.7 2243.1 L1346.1 2242.5 L1348.6 2243.1 L1351 2243.2 L1353.4 2244.8 L1355.9 2245.4 L1358.3 2245.4 L1360.7 2245.4 L1363.2 2246.2 L1365.6 2246.5 L1368.1 2246.9 L1370.5 2246.9 L1372.9 2247.1 L1375.4 2246.3 L1377.8 2246 L1380.2 2245.2 L1382.7 2244.5 L1385.1 2243.5 L1387.5 2244.2 L1390 2245.2 L1392.4 2245.5 L1394.8 2245.4 L1397.3 2245.3 L1399.7 2245.1 L1402.2 2245.7 L1404.6 2245.1 L1407 2245.7 L1409.5 2246.2 L1411.9 2245.4 L1414.3 2244.8 L1416.8 2244.5 L1419.2 2245.4 L1421.6 2244.3 L1424.1 2243.8 L1426.5 2243.1 L1428.9 2244.6 L1431.4 2244.4 L1433.8 2241.3 L1436.3 2243.1 L1438.7 2243.8 L1441.1 2241 L1443.6 2242.7 L1446 2242.4 L1448.4 2242.3 L1450.9 2240 L1453.3 2240.8 L1455.7 2240.8 L1458.2 2242.4 L1460.6 2244.1 L1463 2243.1 L1465.5 2246.7 L1467.9 2246.8 L1470.4 2247.2 L1472.8 2248 L1475.2 2247.7 L1477.7 2248.1 L1480.1 2249 L1482.5 2247.2 L1485 2245 L1487.4 2244.6 L1489.8 2245.7 L1492.3 2246.1 L1494.7 2246 L1497.1 2245.1 L1499.6 2242.8 L1502 2242.6 L1504.5 2242.3 L1506.9 2241.2 L1509.3 2240.6 L1511.8 2240.6 L1514.2 2241.1 L1516.6 2243.2 L1519.1 2243.5 L1521.5 2244.3 L1523.9 2243.9 L1526.4 2245.2 L1528.8 2245 L1531.3 2244.7 L1533.7 2244.7 L1536.1 2244.6 L1538.6 2244.6 L1541 2244.4 L1543.4 2244.8 L1545.9 2244.6 L1548.3 2244.6 L1550.7 2243.7 L1553.2 2244.4 L1555.6 2243.7 L1558 2244.5 L1560.5 2244.5 L1562.9 2244.7 L1565.4 2245.3 L1567.8 2246.2 L1570.2 2246.7 L1572.7 2246.1 L1575.1 2246.9 L1577.5 2245.8 L1580 2246 L1582.4 2246.2 L1584.8 2247.7 L1587.3 2247.2 L1589.7 2247.6 L1592.1 2247.9 L1594.6 2247.9 L1597 2247.2 L1599.5 2247.1 L1601.9 2247.6 L1604.3 2248.5 L1606.8 2249.1 L1609.2 2249.7 L1611.6 2249.7 L1614.1 2249.2 L1616.5 2249.1 L1618.9 2248.4 L1621.4 2249.3 L1623.8 2250.8 L1626.2 2249.9 L1628.7 2249.9 L1631.1 2249.2 L1633.6 2248.8 L1636 2248.7 L1638.4 2248.6 L1640.9 2248.6 L1643.3 2248.4 L1645.7 2249 L1648.2 2249.2 L1650.6 2248.3 L1653 2248.8 L1655.5 2248.2 L1657.9 2248.3 L1660.3 2247.6 L1662.8 2248.1 L1665.2 2247.2 L1667.7 2247.9 L1670.1 2248.3 L1672.5 2247.8 L1675 2246.8 L1677.4 2247.7 L1679.8 2247.6 L1682.3 2248.1 L1684.7 2248.4 L1687.1 2247.9 L1689.6 2248.9 L1692 2248.7 L1694.4 2249.8 L1696.9 2250 L1699.3 2250.6 L1701.8 2249.8 L1704.2 2250 L1706.6 2250.9 L1709.1 2251.9 L1711.5 2251.9 L1713.9 2252.2 L1716.4 2251.4 L1718.8 2250.9 L1721.2 2250.7 L1723.7 2251 L1726.1 2250.4 L1728.5 2250.6 L1731 2250.3 L1733.4 2249.5 L1735.9 2249.2 L1738.3 2249.3 L1740.7 2249.9 L1743.2 2250.9 L1745.6 2252.3 L1748 2252.1 L1750.5 2252.5 L1752.9 2253 L1755.3 2252.3 L1757.8 2252.9 L1760.2 2252.7 L1762.6 2253.5 L1765.1 2252.9 L1767.5 2252 L1770 2250.7 L1772.4 2251.1 L1774.8 2250.7 L1777.3 2251 L1779.7 2251.8 L1782.1 2251.8 L1784.6 2250.1 L1787 2249.1 L1789.4 2250.3 L1791.9 2249.7 L1794.3 2249.2 L1796.8 2249.5 L1799.2 2250.1 L1801.6 2251.5 L1804.1 2252.4 L1806.5 2253.8 L1808.9 2254.8 L1811.4 2255.4 L1813.8 2254.7 L1816.2 2255.8 L1818.7 2255.5 L1821.1 2255.8 L1823.5 2257.3 L1826 2256.6 L1828.4 2257.6 L1830.9 2257.9 L1833.3 2257.7 L1835.7 2258.5 L1838.2 2258 L1840.6 2258 L1843 2257.3 L1845.5 2258.4 L1847.9 2258.8 L1850.3 2258.6 L1852.8 2258.5 L1855.2 2257.9 L1857.6 2258.1 L1860.1 2257.1 L1862.5 2258.6 L1865 2258.2 L1867.4 2259.3 L1869.8 2259.5 L1872.3 2259.2 L1874.7 2260.5 L1877.1 2260.6 L1879.6 2260.3 L1882 2260.5 L1884.4 2260.7 L1886.9 2260.1 L1889.3 2260.5 L1891.7 2259.7 L1894.2 2259.7 L1896.6 2260.4 L1899.1 2261.2 L1901.5 2262.5 L1903.9 2261.9 L1906.4 2262.6 L1908.8 2262.3 L1911.2 2262.8 L1913.7 2262.5 L1916.1 2262.4 L1918.5 2262.6 L1921 2262.4 L1923.4 2262.1 L1925.8 2262 L1928.3 2262.3 L1930.7 2262.3 L1933.2 2261.9 L1935.6 2262.4 L1938 2263.2 L1940.5 2262.5 L1942.9 2263.1 L1945.3 2263.7 L1947.8 2264.3 L1950.2 2264.2 L1952.6 2265.2 L1955.1 2265.2 L1957.5 2265.6 L1959.9 2264.8 L1962.4 2264.9 L1964.8 2265.4 L1967.3 2266.1 L1969.7 2267.1 L1972.1 2266.2 L1974.6 2266.3 L1977 2266.9 L1979.4 2266.2 L1981.9 2265.9 L1984.3 2267.1 L1986.7 2268 L1989.2 2267.9 L1991.6 2267.8 L1994 2266.9 L1996.5 2267.3 L1998.9 2267.5 L2001.4 2267.9 L2003.8 2269.1 L2006.2 2268.4 L2008.7 2266.9 L2011.1 2266.6 L2013.5 2265.4 L2016 2264.7 L2018.4 2264.4 L2020.8 2264.4 L2023.3 2263.1 L2025.7 2262.4 L2028.1 2263.1 L2030.6 2262.8 L2033 2264.2 L2035.5 2265.2 L2037.9 2265.7 L2040.3 2265.9 L2042.8 2264.2 L2045.2 2264.8 L2047.6 2265.2 L2050.1 2264.5 L2052.5 2264.8 L2054.9 2264.5 L2057.4 2264.2 L2059.8 2265.1 L2062.3 2265.7 L2064.7 2266.4 L2067.1 2266 L2069.6 2266.2 L2072 2266.5 L2074.4 2266.6 L2076.9 2266.2 L2079.3 2265.8 L2081.7 2266.8 L2084.2 2266.4 L2086.6 2266.6 L2089 2266.9 L2091.5 2266.1 L2093.9 2265.8 L2096.4 2266.1 L2098.8 2266.3 L2101.2 2265.9 L2103.7 2265.6 L2106.1 2265.9 L2108.5 2265.2 L2111 2265.2 L2113.4 2264.5 L2115.8 2264.1 L2118.3 2262.4 L2120.7 2264.2 L2123.1 2264.8 L2125.6 2265.5 L2128 2265.4 L2130.5 2264.9 L2132.9 2265.7 L2135.3 2265.8 L2137.8 2265.1 L2140.2 2264.4 L2142.6 2265 L2145.1 2265.9 L2147.5 2266 L2149.9 2265.1 L2152.4 2265.6 L2154.8 2265.9 L2157.2 2264.2 L2159.7 2264.4 L2162.1 2264 L2164.6 2263.5 L2167 2262.1 L2169.4 2262.5 L2171.9 2262.6 L2174.3 2262.9 L2176.7 2263 L2179.2 2262.6 L2181.6 2263.2 L2184 2262.6 L2186.5 2262.3 L2188.9 2260.6 L2191.3 2260.6 L2193.8 2260.3 L2196.2 2260.1 L2198.7 2260.4 L2201.1 2259 L2203.5 2258.8 L2206 2257.7 L2208.4 2257.7 L2210.8 2258 L2213.3 2257.9 L2215.7 2257.6 L2218.1 2257.5 L2220.6 2257.4 L2223 2255.6 L2225.4 2256.1 L2227.9 2256.4 L2230.3 2256.2 L2232.8 2255.3 L2235.2 2255.5 L2237.6 2254.7 L2240.1 2255.1 L2242.5 2254.3 L2244.9 2254.2 L2247.4 2254 L2249.8 2254.3 L2252.2 2254.5 L2254.7 2253.6 L2257.1 2254.1 L2259.5 2254 L2262 2254.6 L2264.4 2255.6 L2266.9 2255.6 L2269.3 2256.2 L2271.7 2257.5 L2274.2 2257.2 L2276.6 2257.2 L2279 2256.8 L2281.5 2255.7 L2283.9 2255.2 L2286.3 2255.3 L2288.8 2255.4 L2291.2 2255.2 L2293.6 2253.3 L2296.1 2251.9 L2298.5 2255 L2301 2254.7 L2303.4 2256.3 L2305.8 2256.2 L2308.3 2252.4 L2310.7 2252.9 L2313.1 2255.4 L2315.6 2255.7 L2318 2258 L2320.4 2258 L2322.9 2256.8 L2325.3 2256.8 L2327.8 2254.8 L2330.2 2254.3 L2332.6 2255 L2335.1 2253.6 L2337.5 2252.5 L2339.9 2253 L2342.4 2249.8 L2344.8 2250.6 L2347.2 2252.4 L2349.7 2253 L2352.1 2249.8 L2354.5 2250.5 L2357 2249.7 L2359.4 2250.8 L2361.9 2250.1 L2364.3 2249.3 L2366.7 2247.3 L2369.2 2246.2 L2371.6 2245.7 L2374 2245 L2376.5 2245.2 L2378.9 2244.5 L2381.3 2241.9 L2383.8 2242.9 L2386.2 2244.5 L2388.6 2240.7 L2391.1 2238.5 L2393.5 2239.9 L2396 2239.8 L2398.4 2238.1 L2400.8 2239.4 L2403.3 2239.5 L2405.7 2238.3 L2408.1 2237.3 L2410.6 2236.2 L2413 2236.8 L2415.4 2238.4 L2417.9 2239.5 L2420.3 2238.7 L2422.7 2237.9 L2425.2 2239 L2427.6 2241.4 L2430.1 2238 L2432.5 2237.1 L2434.9 2236.2 L2437.4 2235.4 L2439.8 2236.5 L2442.2 2238.6 L2444.7 2238.4 L2447.1 2236.6 L2449.5 2236.5 L2452 2237.8 L2454.4 2239.6 L2456.8 2240.5 L2459.3 2242 L2461.7 2243.9 L2464.2 2244.1 L2466.6 2242.7 L2469 2242.4 L2471.5 2243.1 L2473.9 2246 L2476.3 2245.5 L2478.8 2244.6 L2481.2 2243.9 L2483.6 2244.7 L2486.1 2245.5 L2488.5 2244.2 L2490.9 2244.2 L2493.4 2241.8 L2495.8 2240.1 L2498.3 2238.8 L2500.7 2238.7 L2503.1 2239.7 L2505.6 2240 L2508 2238.4 L2510.4 2238.7 L2512.9 2236.8 L2515.3 2236.5 L2517.7 2235.1 L2520.2 2233.5 L2522.6 2234.5 L2525 2234.3 L2527.5 2234.9 L2529.9 2236.6 L2532.4 2236.9 L2534.8 2237 L2537.2 2240.4 L2539.7 2240.3 L2542.1 2239.9 L2544.5 2238.7 L2547 2236.6 L2549.4 2232.7 L2551.8 2233.9 L2554.3 2236.7 L2556.7 2237.2 L2559.1 2233.9 L2561.6 2233.2 L2564 2234.9 L2566.5 2236.6 L2568.9 2237.2 L2571.3 2236.6 L2573.8 2235.7 L2576.2 2236.9 L2578.6 2235.7 L2581.1 2233.9 L2583.5 2231.8 L2585.9 2233.7 L2588.4 2233.8 L2590.8 2234.8 L2593.2 2234.6 L2595.7 2236.6 L2598.1 2237.1 L2600.6 2239.5 L2603 2239.6 L2605.4 2238.9 L2607.9 2238.2 L2610.3 2239.2 L2612.7 2240.2 L2615.2 2241 L2617.6 2243 L2620 2242.7 L2622.5 2242.1 L2624.9 2240.8 L2627.4 2241.5 L2629.8 2243.4 L2632.2 2241.5 L2634.7 2243.1 L2637.1 2242.2 L2639.5 2242.4 L2642 2245.5 L2644.4 2245.5 L2646.8 2245.6 L2649.3 2245.2 L2651.7 2243.2 L2654.1 2241.5 L2656.6 2242.5 L2659 2242.4 L2661.5 2242.8 L2663.9 2240.4 L2666.3 2240 L2668.8 2240.2 L2671.2 2240.2 L2673.6 2241.1 L2676.1 2241.6 L2678.5 2242.3 L2680.9 2242.3 L2683.4 2242 L2685.8 2243.4 L2688.2 2245.3 L2690.7 2244.1 L2693.1 2243.5 L2695.6 2244.7 L2698 2244.8 L2700.4 2243.7 L2702.9 2243.4 L2705.3 2244.2 L2707.7 2245.1 L2710.2 2246.7 L2712.6 2246.2 L2715 2243.2 L2717.5 2243 L2719.9 2244.5 L2722.3 2245.3 L2724.8 2247.6 L2727.2 2248.1 L2729.7 2244.6 L2732.1 2244.4 L2734.5 2245.5 L2737 2245.3 L2739.4 2245 L2741.8 2247.5 L2744.3 2248.1 L2746.7 2247.8 L2749.1 2249.3 L2751.6 2249.2 L2754 2250.2 L2756.4 2251.1 L2758.9 2252.4 L2761.3 2252.8 L2763.8 2252.5 L2766.2 2251.6 L2768.6 2252.2 L2771.1 2252.8 L2773.5 2253.3 L2775.9 2256.1 L2778.4 2258.1 L2780.8 2256.1 L2783.2 2255 L2785.7 2254.7 L2788.1 2254.6 L2790.5 2253.4 L2793 2255.2 L2795.4 2254 L2797.9 2255.2 L2800.3 2256.5 L2802.7 2258.3 L2805.2 2259.4 L2807.6 2257.2 L2810 2257.6 L2812.5 2259 L2814.9 2259.2 L2817.3 2258.6 L2819.8 2257.9 L2822.2 2258.2 L2824.6 2258.6 L2827.1 2258.1 L2829.5 2256.8 L2832 2256.7 L2834.4 2256.1 L2836.8 2255.4 L2839.3 2256.1 L2841.7 2257 L2844.1 2257.5 L2846.6 2256.9 L2849 2257.2 L2851.4 2256.7 L2853.9 2256.8 L2856.3 2256.4 L2858.7 2255.9 L2861.2 2255.5 L2863.6 2255.4 L2866.1 2255.5 L2868.5 2254 L2870.9 2253.8 L2873.4 2253.1 L2875.8 2253.1 L2878.2 2253.1 L2880.7 2252.9 L2883.1 2252.5 L2885.5 2251.7 L2888 2251.8 L2890.4 2251.2 L2892.9 2250.6 L2895.3 2248.9 L2897.7 2248.1 L2900.2 2247.9 L2902.6 2247.6 L2905 2248.2 L2907.5 2248.4 L2909.9 2247.5 L2912.3 2246.8 L2914.8 2245.6 L2917.2 2245.8 L2919.6 2246.2 L2922.1 2245.8 L2924.5 2245 L2927 2244.5 L2929.4 2243.5 L2931.8 2243 L2934.3 2243.3 L2936.7 2243 L2939.1 2242.2 L2941.6 2242.6 L2944 2242.6 L2946.4 2242.3 L2948.9 2241.8 L2951.3 2241.6 L2953.7 2241 L2956.2 2240.1 L2958.6 2240.5 L2961.1 2239.6 L2963.5 2238.6 L2965.9 2237.7 L2968.4 2237.7 L2970.8 2236.7 L2973.2 2237.1 L2975.7 2236.6 L2978.1 2237.5 L3005.1 2235.6" fill="none" stroke="#DDA0C8" stroke-width="4.4" stroke-linejoin="round"/>
<path d="M401.9 2273.4 L456.7 2269.2 L511.5 2259.7 L566.3 2252.9 L621.1 2252.3 L675.9 2252.9 L730.7 2255 L785.5 2258.7 L840.3 2259.2 L895.1 2256.6 L950 2259.7 L1004.8 2261.8 L1059.6 2260.8 L1114.4 2261.8 L1169.2 2264.9 L1224 2266.9 L1278.8 2260.8 L1333.6 2257.8 L1388.4 2261.4 L1443.2 2261.9 L1498 2259 L1552.8 2259.6 L1607.6 2261.9 L1662.4 2262.5 L1717.2 2262.5 L1772 2263.7 L1826.8 2267.2 L1881.6 2270.7 L1936.4 2274.2 L1991.2 2276.6 L2046.1 2276.6 L2100.9 2278 L2155.7 2276.3 L2210.5 2272.5 L2265.3 2270.7 L2320.1 2269 L2374.9 2263.1 L2429.7 2257.3 L2484.5 2258.4 L2539.3 2257.8 L2594.1 2257.8 L2648.9 2263.1 L2703.7 2265.5 L2758.5 2270.7 L2813.3 2277.8 L2868.1 2275.4 L2922.9 2270.1 L2977.7 2265.5" fill="none" stroke="#0000FF" stroke-width="8.6" stroke-linejoin="round"/>
<path d="M401.9 2251.3 L456.7 2250.8 L511.5 2240.7 L566.3 2232.8 L621.1 2232.8 L675.9 2232.3 L730.7 2233.9 L785.5 2237.1 L840.3 2237.1 L895.1 2235 L950 2236.5 L1004.8 2238.6 L1059.6 2238.1 L1114.4 2240.7 L1169.2 2246.4 L1224 2250.5 L1278.8 2245 L1333.6 2242.6 L1388.4 2246.7 L1443.2 2247.3 L1498 2245 L1552.8 2246.1 L1607.6 2249.1 L1662.4 2250.2 L1717.2 2251.4 L1772 2253.2 L1826.8 2256.7 L1881.6 2260.2 L1936.4 2263.1 L1991.2 2265.5 L2046.1 2265.5 L2100.9 2266.6 L2155.7 2264.9 L2210.5 2258.4 L2265.3 2255.5 L2320.1 2253.2 L2374.9 2247.3 L2429.7 2242 L2484.5 2243.8 L2539.3 2242.6 L2594.1 2242.6 L2648.9 2246.1 L2703.7 2247.3 L2758.5 2250.8 L2813.3 2257.3 L2868.1 2253.2 L2922.9 2246.1 L2977.7 2240.9" fill="none" stroke="#EE82EE" stroke-width="8.6" stroke-linejoin="round"/>
<path d="M374.5 2134.8 L401.9 2134.8 L456.7 2132.7 L511.5 2118.5 L566.3 2108.5 L621.1 2110.1 L675.9 2105.3 L730.7 2106.9 L785.5 2112.7 L840.3 2111.7 L895.1 2112.7 L950 2116.9 L1004.8 2122.7 L1059.6 2123.2 L1114.4 2126.9 L1169.2 2135.4 L1224 2137.6 L1278.8 2130.2 L1333.6 2126.7 L1388.4 2131.4 L1443.2 2132.6 L1498 2131.4 L1552.8 2133.7 L1607.6 2137.8 L1662.4 2143.1 L1717.2 2142.5 L1772 2144.3 L1826.8 2147.8 L1881.6 2151.9 L1936.4 2154.2 L1991.2 2157.7 L2046.1 2156 L2100.9 2157.1 L2155.7 2158.3 L2210.5 2149.5 L2265.3 2147.2 L2320.1 2142.5 L2374.9 2139.6 L2429.7 2134.9 L2484.5 2140.7 L2539.3 2134.3 L2594.1 2137.8 L2648.9 2146 L2703.7 2144.3 L2758.5 2146.6 L2813.3 2151.9 L2868.1 2143.7 L2922.9 2132.6" fill="none" stroke="#FA8072" stroke-width="4.4" stroke-linejoin="round"/>
<path d="M374.5 1616.8 L376.3 1614.9 L378.2 1611.7 L380 1610.7 L381.8 1611.9 L383.6 1612.1 L385.5 1612.2 L387.3 1610.5 L389.1 1607.4 L390.9 1608 L392.8 1608.3 L394.6 1606.2 L396.4 1607.8 L398.2 1606.5 L400.1 1603.3 L401.9 1603.7 L403.7 1601.4 L405.6 1600.9 L407.4 1601.3 L409.2 1602.8 L411 1602.7 L412.9 1602.7 L414.7 1603.2 L416.5 1598.8 L418.3 1598.7 L420.2 1598.9 L422 1598.8 L423.8 1598.3 L425.7 1597.7 L427.5 1597.2 L429.3 1592.4 L431.1 1589.1 L433 1593.4 L434.8 1593.8 L436.6 1594.6 L438.4 1588.8 L440.3 1588.1 L442.1 1581.2 L443.9 1581.9 L445.7 1583.1 L447.6 1581.8 L449.4 1579.1 L451.2 1581.6 L453.1 1578.8 L454.9 1575.6 L456.7 1571.4 L458.5 1571.9 L460.4 1572.4 L462.2 1569.3 L464 1569.4 L465.8 1566.6 L467.7 1563.7 L469.5 1562 L471.3 1561.2 L473.1 1560.1 L475 1556.2 L476.8 1558.9 L478.6 1557.1 L480.5 1557 L482.3 1556.4 L484.1 1553 L485.9 1556.5 L487.8 1554.1 L489.6 1554.1 L491.4 1552 L493.2 1554.9 L495.1 1554.5 L496.9 1554 L498.7 1551.7 L500.6 1549.8 L502.4 1548 L504.2 1545.5 L506 1545.5 L507.9 1548.8 L509.7 1547.7 L511.5 1545.5 L513.3 1542.7 L515.2 1541.7 L517 1540.8 L518.8 1539.1 L520.6 1535 L522.5 1533.7 L524.3 1537.7 L526.1 1541.3 L528 1540.9 L529.8 1538.4 L531.6 1536.8 L533.4 1533.4 L535.3 1536.5 L537.1 1537 L538.9 1540.4 L540.7 1543 L542.6 1537.2 L544.4 1539.3 L546.2 1539.4 L548 1527.4 L549.9 1519.7 L551.7 1520.6 L553.5 1525.2 L555.4 1526.2 L557.2 1531.5 L559 1533.7 L560.8 1525 L562.7 1520.8 L564.5 1526.7 L566.3 1524 L568.1 1525.6 L570 1524.6 L571.8 1519.2 L573.6 1515.2 L575.5 1518.5 L577.3 1514.8 L579.1 1513.5 L580.9 1511.2 L582.8 1520.5 L584.6 1514.9 L586.4 1507.5 L588.2 1507.4 L590.1 1503.1 L591.9 1502.4 L593.7 1505.4 L595.5 1507.6 L597.4 1511 L599.2 1508.5 L601 1508.1 L602.9 1507.4 L604.7 1510.1 L606.5 1513.7 L608.3 1507.4 L610.2 1499.9 L612 1508.5 L613.8 1505.8 L615.6 1506.9 L617.5 1504.8 L619.3 1508.3 L621.1 1511.9 L622.9 1505.4 L624.8 1505.3 L626.6 1505.5 L628.4 1504.2 L630.3 1506.8 L632.1 1513.7 L633.9 1515.3 L635.7 1509.3 L637.6 1505.3 L639.4 1500.5 L641.2 1496.4 L643 1499.7 L644.9 1496.5 L646.7 1499.7 L648.5 1501.2 L650.4 1501.2 L652.2 1501.8 L654 1495.3 L655.8 1495.1 L657.7 1503.6 L659.5 1505.3 L661.3 1501.8 L663.1 1499.2 L665 1501.5 L666.8 1494.7 L668.6 1483.2 L670.4 1482.9 L672.3 1491 L674.1 1491.6 L675.9 1492.6 L677.8 1492.9 L679.6 1491.2 L681.4 1491.7 L683.2 1493 L685.1 1487.1 L686.9 1489.5 L688.7 1494.8 L690.5 1490.4 L692.4 1483 L694.2 1482.2 L696 1490.8 L697.8 1487.7 L699.7 1487.5 L701.5 1483.2 L703.3 1480.5 L705.2 1472.9 L707 1479.1 L708.8 1478.7 L710.6 1480 L712.5 1477 L714.3 1484 L716.1 1486.2 L717.9 1488.8 L719.8 1495.3 L721.6 1494.4 L723.4 1489.6 L725.3 1478.4 L727.1 1483.8 L728.9 1487 L730.7 1490.6 L732.6 1492.9 L734.4 1491.4 L736.2 1480.1 L738 1484.8 L739.9 1490.2 L741.7 1484.6 L743.5 1485.7 L745.3 1489.7 L747.2 1488.1 L749 1488.2 L750.8 1491.7 L752.7 1483.8 L754.5 1482.9 L756.3 1483.4 L758.1 1492.4 L760 1493.2 L761.8 1495.8 L763.6 1492.1 L765.4 1487.3 L767.3 1475.2 L769.1 1481 L770.9 1484.5 L772.7 1487.3 L774.6 1480.7 L776.4 1482.4 L778.2 1479.2 L780.1 1480.8 L781.9 1482.7 L783.7 1486.2 L785.5 1492.3 L787.4 1491.7 L789.2 1488.7 L791 1496 L792.8 1489.2 L794.7 1490.7 L796.5 1489.2 L798.3 1494.8 L800.2 1495.4 L802 1498.9 L803.8 1494.6 L805.6 1502.1 L807.5 1491.4 L809.3 1493.7 L811.1 1490.9 L812.9 1489.8 L814.8 1483.4 L816.6 1483.1 L818.4 1480.3 L820.2 1484.9 L822.1 1491.7 L823.9 1496.9 L825.7 1497.7 L827.6 1501.2 L829.4 1497 L831.2 1496.4 L833 1495.4 L834.9 1499 L836.7 1501.9 L838.5 1499 L840.3 1498 L842.2 1495.7 L844 1497.9 L845.8 1496.9 L847.6 1492.1 L849.5 1501.6 L851.3 1498.4 L853.1 1503.1 L855 1502.8 L856.8 1505.6 L858.6 1514.3 L860.4 1503.7 L862.3 1505.5 L864.1 1503.9 L865.9 1502.5 L867.7 1505.8 L869.6 1509.3 L871.4 1513.9 L873.2 1519.6 L875.1 1520 L876.9 1518.2 L878.7 1514.8 L880.5 1516.9 L882.4 1519.3 L884.2 1520.5 L886 1518.4 L887.8 1520.5 L889.7 1519.1 L891.5 1526.8 L893.3 1526.3 L895.1 1527.2 L897 1531.2 L898.8 1532.1 L900.6 1535.5 L902.5 1538.3 L904.3 1538.9 L906.1 1540.4 L907.9 1534.8 L909.8 1537 L911.6 1542.2 L913.4 1544.1 L915.2 1537.8 L917.1 1541.3 L918.9 1539.9 L920.7 1544.6 L922.5 1545.7 L924.4 1540.5 L926.2 1543 L928 1541.3 L929.9 1542.5 L931.7 1541.6 L933.5 1545.8 L935.3 1544.1 L937.2 1545.8 L939 1547.2 L940.8 1549 L942.6 1545.2 L944.5 1548.7 L946.3 1552.4 L948.1 1553 L950 1554.1 L951.8 1553.5 L953.6 1554.9 L955.4 1560.3 L957.3 1559.8 L959.1 1560 L960.9 1560.1 L962.7 1559.6 L964.6 1560.9 L966.4 1560.2 L968.2 1562.7 L970 1567.1 L971.9 1572.5 L973.7 1572.1 L975.5 1571.6 L977.4 1568.4 L979.2 1570.1 L981 1565.5 L982.8 1566 L984.7 1568.7 L986.5 1571.3 L988.3 1572.3 L990.1 1571.3 L992 1568.9 L993.8 1576.2 L995.6 1573.6 L997.5 1577.6 L999.3 1575 L1001.1 1575.7 L1002.9 1573.4 L1004.8 1577.5 L1006.6 1578.5 L1008.4 1583.2 L1010.2 1581.9 L1012.1 1582.9 L1013.9 1584.7 L1015.7 1584.1 L1017.5 1584.5 L1019.4 1585.3 L1021.2 1588.9 L1023 1589.6 L1024.9 1590.6 L1026.7 1593.1 L1028.5 1593.3 L1030.3 1592.1 L1032.2 1593.5 L1034 1594.1 L1035.8 1597.1 L1037.6 1593.6 L1039.5 1598.7 L1041.3 1604.7 L1043.1 1609 L1044.9 1610.1 L1046.8 1609.1 L1048.6 1602.1 L1050.4 1607.1 L1052.3 1613 L1054.1 1614.4 L1055.9 1612.9 L1057.7 1615 L1059.6 1618.8 L1061.4 1619.5 L1063.2 1624.8 L1065 1626.7 L1066.9 1631.1 L1068.7 1629.6 L1070.5 1637.9 L1072.4 1634.5 L1074.2 1634.5 L1076 1636 L1077.8 1641.5 L1079.7 1639.5 L1081.5 1641.6 L1083.3 1643.9 L1085.1 1647.7 L1087 1645.9 L1088.8 1651.7 L1090.6 1650 L1092.4 1656.3 L1094.3 1660.1 L1096.1 1658.2 L1097.9 1660.1 L1099.8 1662.3 L1101.6 1662 L1103.4 1661 L1105.2 1664.9 L1107.1 1666.8 L1108.9 1668.4 L1110.7 1672.7 L1112.5 1674.3 L1114.4 1674.3 L1116.2 1677.1 L1118 1676.7 L1119.8 1678.9 L1121.7 1680.4 L1123.5 1681.6 L1125.3 1686.4 L1127.2 1686.9 L1129 1688.4 L1130.8 1690.5 L1132.6 1694.8 L1134.5 1697.4 L1136.3 1698.4 L1138.1 1699.9 L1139.9 1703.1 L1141.8 1704.9 L1143.6 1703.3 L1145.4 1705.9 L1147.3 1703.9 L1149.1 1705.1 L1150.9 1709.2 L1152.7 1709.6 L1154.6 1710 L1156.4 1709.4 L1158.2 1709.3 L1160 1711.6 L1161.9 1709.4 L1163.7 1711.1 L1165.5 1719.4 L1167.3 1728.8 L1169.2 1738 L1171 1742.8 L1172.8 1739.7 L1174.7 1735.4 L1176.5 1727.2 L1178.3 1721.2 L1180.1 1725.4 L1182 1728.7 L1183.8 1733.1 L1185.6 1742 L1187.4 1747 L1189.3 1744.6 L1191.1 1739.2 L1192.9 1730.9 L1194.7 1726.9 L1196.6 1724.2 L1198.4 1723.8 L1200.2 1723 L1202.1 1721.3 L1203.9 1721.7 L1205.7 1723.1 L1207.5 1722.9 L1209.4 1723.1 L1211.2 1722.6 L1213 1724.4 L1214.8 1723.1 L1216.7 1722.2 L1218.5 1722.5 L1220.3 1723 L1222.2 1726.3 L1224 1725.9 L1225.8 1726.8 L1227.6 1722.2 L1229.5 1723.2 L1231.3 1724.3 L1233.1 1719.3 L1234.9 1716.5 L1236.8 1712.3 L1238.6 1711.2 L1240.4 1714.9 L1242.2 1715.1 L1244.1 1721.4 L1245.9 1718 L1247.7 1721.3 L1249.6 1720.9 L1251.4 1715.1 L1253.2 1715.6 L1255 1718.5 L1256.9 1712.6 L1258.7 1713.1 L1260.5 1713.1 L1262.3 1714.1 L1264.2 1717.5 L1266 1716 L1267.8 1710.8 L1269.6 1709.1 L1271.5 1705.5 L1273.3 1706.6 L1275.1 1707.9 L1277 1708.4 L1278.8 1710.7 L1280.6 1708.9 L1282.4 1708.5 L1284.3 1712.2 L1286.1 1712.7 L1287.9 1705.3 L1289.7 1709.6 L1291.6 1709.1 L1293.4 1708.9 L1295.2 1704 L1297.1 1702.1 L1298.9 1697.2 L1300.7 1698.6 L1302.5 1701.3 L1304.4 1700.9 L1306.2 1696.1 L1308 1694.4 L1309.8 1695.8 L1311.7 1697.8 L1313.5 1700 L1315.3 1699.8 L1317.1 1698.2 L1319 1694.4 L1320.8 1694.6 L1322.6 1689.8 L1324.5 1690 L1326.3 1690.7 L1328.1 1687.4 L1329.9 1689.1 L1331.8 1690.6 L1333.6 1691.6 L1335.4 1690.2 L1337.2 1686.3 L1339.1 1689.9 L1340.9 1687.2 L1342.7 1684.9 L1344.5 1683.8 L1346.4 1682 L1348.2 1677.9 L1350 1682 L1351.9 1683.2 L1353.7 1684.8 L1355.5 1680.6 L1357.3 1679.8 L1359.2 1678.5 L1361 1674.2 L1362.8 1674.7 L1364.6 1676.2 L1366.5 1674.4 L1368.3 1676.8 L1370.1 1676.5 L1372 1676 L1373.8 1674.2 L1375.6 1678.1 L1377.4 1678 L1379.3 1676.5 L1381.1 1677.9 L1382.9 1676.7 L1384.7 1677.3 L1386.6 1676.9 L1388.4 1674.5 L1390.2 1677.9 L1392 1678.3 L1393.9 1676.6 L1395.7 1677.3 L1397.5 1678.3 L1399.4 1681.9 L1401.2 1682.2 L1403 1679.9 L1404.8 1678.6 L1406.7 1677.6 L1408.5 1678.2 L1410.3 1677 L1412.1 1676.1 L1414 1677.4 L1415.8 1674.5 L1417.6 1674.8 L1419.4 1676.9 L1421.3 1674.1 L1423.1 1675.7 L1424.9 1672.2 L1426.8 1675.8 L1428.6 1674 L1430.4 1675.8 L1432.2 1675.3 L1434.1 1675.7 L1435.9 1676.8 L1437.7 1672.6 L1439.5 1673.8 L1441.4 1671.8 L1443.2 1673.7 L1445 1674.3 L1446.9 1673.8 L1448.7 1676.8 L1450.5 1673.1 L1452.3 1672.7 L1454.2 1678.1 L1456 1672.5 L1457.8 1672.2 L1459.6 1673.8 L1461.5 1676.2 L1463.3 1674.3 L1465.1 1675.5 L1466.9 1673.7 L1468.8 1674.9 L1470.6 1676.2 L1472.4 1675.2 L1474.3 1674 L1476.1 1674.7 L1477.9 1674.9 L1479.7 1674 L1481.6 1675.1 L1483.4 1671.8 L1485.2 1670.8 L1487 1672.4 L1488.9 1670.2 L1490.7 1672 L1492.5 1675.6 L1494.3 1674.9 L1496.2 1674.4 L1498 1674.5 L1499.8 1671.4 L1501.7 1670.7 L1503.5 1670.6 L1505.3 1674.4 L1507.1 1673.2 L1509 1673.1 L1510.8 1675.7 L1512.6 1675.8 L1514.4 1672.9 L1516.3 1675 L1518.1 1673.7 L1519.9 1675.3 L1521.8 1674.4 L1523.6 1672.9 L1525.4 1672 L1527.2 1670.7 L1529.1 1670.8 L1530.9 1670.4 L1532.7 1671.3 L1534.5 1673.4 L1536.4 1674.4 L1538.2 1672 L1540 1671.2 L1541.8 1671.6 L1543.7 1670.5 L1545.5 1672.8 L1547.3 1677.9 L1549.2 1675.2 L1551 1679.3 L1552.8 1675.2 L1554.6 1672.5 L1556.5 1676.4 L1558.3 1677.2 L1560.1 1677.3 L1561.9 1677.4 L1563.8 1674.1 L1565.6 1672.6 L1567.4 1674.7 L1569.2 1675.2 L1571.1 1675.6 L1572.9 1676.1 L1574.7 1678.5 L1576.6 1678.5 L1578.4 1678.8 L1580.2 1677.9 L1582 1675.4 L1583.9 1679.1 L1585.7 1679.8 L1587.5 1684.2 L1589.3 1682.9 L1591.2 1684.3 L1593 1686.8 L1594.8 1687 L1596.7 1686.9 L1598.5 1685.9 L1600.3 1686.7 L1602.1 1692.7 L1604 1688.3 L1605.8 1687.2 L1607.6 1687.7 L1609.4 1689.2 L1611.3 1690.4 L1613.1 1694.8 L1614.9 1698.3 L1616.7 1697.8 L1618.6 1696.6 L1620.4 1696.1 L1622.2 1698 L1624.1 1698.9 L1625.9 1700.6 L1627.7 1703.8 L1629.5 1703.6 L1631.4 1702.6 L1633.2 1701.7 L1635 1700.5 L1636.8 1700.8 L1638.7 1701.6 L1640.5 1702 L1642.3 1703.1 L1644.1 1703.8 L1646 1703.7 L1647.8 1703.7 L1649.6 1704.8 L1651.5 1703.9 L1653.3 1703.4 L1655.1 1702.9 L1656.9 1705 L1658.8 1706.1 L1660.6 1707.9 L1662.4 1708.5 L1664.2 1708.4 L1666.1 1707.2 L1667.9 1705.7 L1669.7 1711.1 L1671.6 1705.9 L1673.4 1705.5 L1675.2 1706.3 L1677 1708.8 L1678.9 1705.6 L1680.7 1703.8 L1682.5 1705.9 L1684.3 1706.6 L1686.2 1704.7 L1688 1706.5 L1689.8 1706.4 L1691.6 1704.9 L1693.5 1704.6 L1695.3 1707.2 L1697.1 1708.2 L1699 1706.8 L1700.8 1707.2 L1702.6 1707.9 L1704.4 1706.8 L1706.3 1707.5 L1708.1 1706.8 L1709.9 1707.4 L1711.7 1706.3 L1713.6 1707.1 L1715.4 1708 L1717.2 1708.4 L1719 1708.5 L1720.9 1707.1 L1722.7 1706.2 L1724.5 1708.6 L1726.4 1710.6 L1728.2 1710.4 L1730 1707.5 L1731.8 1709.6 L1733.7 1710.3 L1735.5 1711 L1737.3 1712.3 L1739.1 1711.9 L1741 1712.1 L1742.8 1708.8 L1744.6 1710.4 L1746.5 1711.8 L1748.3 1711 L1750.1 1711.2 L1751.9 1709 L1753.8 1709.3 L1755.6 1710.8 L1757.4 1709.8 L1759.2 1709.8 L1761.1 1707.8 L1762.9 1707.9 L1764.7 1707 L1766.5 1706.7 L1768.4 1709.1 L1770.2 1707.2 L1772 1709.7 L1773.9 1710.4 L1775.7 1709.9 L1777.5 1709.1 L1779.3 1706.2 L1781.2 1709.9 L1783 1710.1 L1784.8 1712.9 L1786.6 1713.6 L1788.5 1711.3 L1790.3 1709.2 L1792.1 1707.6 L1793.9 1708.7 L1795.8 1709.7 L1797.6 1709 L1799.4 1711 L1801.3 1709.6 L1803.1 1712.1 L1804.9 1711.6 L1806.7 1710.4 L1808.6 1712.1 L1810.4 1712.5 L1812.2 1713.2 L1814 1715.1 L1815.9 1712.2 L1817.7 1711.1 L1819.5 1712.7 L1821.4 1712.8 L1823.2 1712.9 L1825 1710.4 L1826.8 1711.1 L1828.7 1712.7 L1830.5 1712.3 L1832.3 1712.1 L1834.1 1712.1 L1836 1715.6 L1837.8 1714 L1839.6 1716.4 L1841.4 1716.9 L1843.3 1715.5 L1845.1 1715.4 L1846.9 1717 L1848.8 1717.3 L1850.6 1718.2 L1852.4 1720.3 L1854.2 1720 L1856.1 1718 L1857.9 1720.7 L1859.7 1716.6 L1861.5 1715.7 L1863.4 1714.8 L1865.2 1713.9 L1867 1716.5 L1868.8 1712.5 L1870.7 1715.1 L1872.5 1716 L1874.3 1717.4 L1876.2 1719.6 L1878 1718.9 L1879.8 1718.4 L1881.6 1716.9 L1883.5 1717.9 L1885.3 1720.3 L1887.1 1719.4 L1888.9 1720.3 L1890.8 1718.9 L1892.6 1721.7 L1894.4 1723.3 L1896.3 1720.5 L1898.1 1722.8 L1899.9 1723.6 L1901.7 1722.6 L1903.6 1724 L1905.4 1721.8 L1907.2 1720.7 L1909 1719.1 L1910.9 1722 L1912.7 1722.4 L1914.5 1725.3 L1916.3 1723.3 L1918.2 1724 L1920 1722.1 L1921.8 1722.9 L1923.7 1725.4 L1925.5 1726.6 L1927.3 1724.3 L1929.1 1723.5 L1931 1724.4 L1932.8 1724.9 L1934.6 1722.9 L1936.4 1726.9 L1938.3 1724.6 L1940.1 1725.5 L1941.9 1727.9 L1943.7 1726.4 L1945.6 1727.8 L1947.4 1726.2 L1949.2 1725.9 L1951.1 1725.7 L1952.9 1725 L1954.7 1724.8 L1956.5 1727.1 L1958.4 1727.9 L1960.2 1727.6 L1962 1729.7 L1963.8 1731.4 L1965.7 1732.8 L1967.5 1733.9 L1969.3 1732 L1971.2 1730.3 L1973 1729.7 L1974.8 1730.2 L1976.6 1733.7 L1978.5 1735 L1980.3 1732.7 L1982.1 1730.2 L1983.9 1732.2 L1985.8 1732.1 L1987.6 1732.9 L1989.4 1731.3 L1991.2 1734.1 L1993.1 1732.7 L1994.9 1731.4 L1996.7 1732.1 L1998.6 1733 L2000.4 1731.3 L2002.2 1732.4 L2004 1729.1 L2005.9 1728.9 L2007.7 1730.2 L2009.5 1731 L2011.3 1730.6 L2013.2 1733.7 L2015 1730.6 L2016.8 1728.9 L2018.7 1728.7 L2020.5 1730.1 L2022.3 1732.7 L2024.1 1729.7 L2026 1728.3 L2027.8 1731.9 L2029.6 1730.5 L2031.4 1732.1 L2033.3 1732.2 L2035.1 1730.6 L2036.9 1732.2 L2038.7 1729.5 L2040.6 1728.8 L2042.4 1730.1 L2044.2 1731.3 L2046.1 1731.2 L2047.9 1732.6 L2049.7 1731.8 L2051.5 1728.6 L2053.4 1729.4 L2055.2 1727.1 L2057 1731 L2058.8 1734.1 L2060.7 1729.3 L2062.5 1728.1 L2064.3 1727 L2066.1 1731.2 L2068 1731.2 L2069.8 1729.6 L2071.6 1728.7 L2073.5 1727.6 L2075.3 1729.6 L2077.1 1726.2 L2078.9 1731 L2080.8 1729.2 L2082.6 1728.1 L2084.4 1726.8 L2086.2 1727.4 L2088.1 1729.6 L2089.9 1728.3 L2091.7 1730 L2093.6 1731 L2095.4 1730.1 L2097.2 1732.2 L2099 1733.7 L2100.9 1734.1 L2102.7 1734.2 L2104.5 1736.6 L2106.3 1733.5 L2108.2 1737.3 L2110 1736.1 L2111.8 1735.6 L2113.6 1739.7 L2115.5 1739.4 L2117.3 1740.3 L2119.1 1739.6 L2121 1739.9 L2122.8 1737.9 L2124.6 1741.2 L2126.4 1741.1 L2128.3 1743.5 L2130.1 1741.6 L2131.9 1745.1 L2133.7 1746.1 L2135.6 1745.5 L2137.4 1748.3 L2139.2 1744.6 L2141 1747.3 L2142.9 1751.2 L2144.7 1752.5 L2146.5 1751.3 L2148.4 1749.3 L2150.2 1747.7 L2152 1747.3 L2153.8 1747.7 L2155.7 1751.2 L2157.5 1748.6 L2159.3 1753 L2161.1 1754 L2163 1754.5 L2164.8 1757.3 L2166.6 1755.8 L2168.5 1753.6 L2170.3 1761.4 L2172.1 1760.6 L2173.9 1759.8 L2175.8 1763.3 L2177.6 1766.3 L2179.4 1764.8 L2181.2 1768 L2183.1 1763.2 L2184.9 1764.5 L2186.7 1763.9 L2188.5 1763.5 L2190.4 1758 L2192.2 1758 L2194 1757.6 L2195.9 1752.8 L2197.7 1752.6 L2199.5 1751.4 L2201.3 1747.7 L2203.2 1748.8 L2205 1749.3 L2206.8 1749.1 L2208.6 1748.8 L2210.5 1742.4 L2212.3 1738.7 L2214.1 1744.1 L2215.9 1745.1 L2217.8 1744.2 L2219.6 1748.8 L2221.4 1747 L2223.3 1744.7 L2225.1 1740.8 L2226.9 1740.4 L2228.7 1737.4 L2230.6 1730.7 L2232.4 1730.2 L2234.2 1729.7 L2236 1729.6 L2237.9 1726 L2239.7 1724.5 L2241.5 1724.7 L2243.4 1720.1 L2245.2 1722.5 L2247 1725.2 L2248.8 1724.8 L2250.7 1727.6 L2252.5 1725.1 L2254.3 1719.2 L2256.1 1719.5 L2258 1720.4 L2259.8 1722.9 L2261.6 1721.3 L2263.4 1724 L2265.3 1720.1 L2267.1 1720.9 L2268.9 1719.7 L2270.8 1715.7 L2272.6 1716.9 L2274.4 1715 L2276.2 1719.1 L2278.1 1718.2 L2279.9 1718 L2281.7 1714.8 L2283.5 1720.3 L2285.4 1719.7 L2287.2 1717.7 L2289 1714 L2290.8 1713 L2292.7 1715.9 L2294.5 1713.4 L2296.3 1716.5 L2298.2 1709.9 L2300 1713.8 L2301.8 1712.4 L2303.6 1710.1 L2305.5 1714 L2307.3 1706.5 L2309.1 1706.6 L2310.9 1708.2 L2312.8 1709.1 L2314.6 1707.5 L2316.4 1707 L2318.3 1715.2 L2320.1 1716.8 L2321.9 1719.3 L2323.7 1716.7 L2325.6 1722.4 L2327.4 1720.1 L2329.2 1718.5 L2331 1718.2 L2332.9 1722.3 L2334.7 1725 L2336.5 1720.8 L2338.3 1719.1 L2340.2 1718.1 L2342 1719.9 L2343.8 1727.3 L2345.7 1727.6 L2347.5 1727.8 L2349.3 1733.6 L2351.1 1740.4 L2353 1742.4 L2354.8 1740.8 L2356.6 1739.9 L2358.4 1742.4 L2360.3 1738.8 L2362.1 1731.6 L2363.9 1729.9 L2365.7 1728.6 L2367.6 1729.9 L2369.4 1726.5 L2371.2 1726.5 L2373.1 1719.8 L2374.9 1727.1 L2376.7 1724.1 L2378.5 1728.4 L2380.4 1725.7 L2382.2 1726.2 L2384 1726.5 L2385.8 1724.2 L2387.7 1729.1 L2389.5 1725.7 L2391.3 1726.9 L2393.2 1725 L2395 1725.2 L2396.8 1725.2 L2398.6 1726.2 L2400.5 1724.3 L2402.3 1723.9 L2404.1 1722.8 L2405.9 1725.3 L2407.8 1724.2 L2409.6 1720.1 L2411.4 1716.2 L2413.2 1713.3 L2415.1 1718.6 L2416.9 1718.5 L2418.7 1721.5 L2420.6 1726 L2422.4 1727.5 L2424.2 1729 L2426 1724.4 L2427.9 1730.6 L2429.7 1732.8 L2431.5 1738.5 L2433.3 1734.1 L2435.2 1730.4 L2437 1729 L2438.8 1730 L2440.6 1729.5 L2442.5 1726.5 L2444.3 1728.1 L2446.1 1730.1 L2448 1731.1 L2449.8 1731.7 L2451.6 1730.5 L2453.4 1728.1 L2455.3 1733.7 L2457.1 1733.4 L2458.9 1732.9 L2460.7 1730.7 L2462.6 1733.9 L2464.4 1732.3 L2466.2 1734.2 L2468.1 1736.2 L2469.9 1736 L2471.7 1734.7 L2473.5 1738.5 L2475.4 1743.4 L2477.2 1737.3 L2479 1740.9 L2480.8 1742.6 L2482.7 1742.3 L2484.5 1743.9 L2486.3 1739.8 L2488.1 1741.4 L2490 1744.4 L2491.8 1737.6 L2493.6 1742.1 L2495.5 1740 L2497.3 1736.2 L2499.1 1736.1 L2500.9 1739 L2502.8 1738.5 L2504.6 1734.2 L2506.4 1734.8 L2508.2 1733.5 L2510.1 1735.5 L2511.9 1735.1 L2513.7 1738.6 L2515.5 1736 L2517.4 1735.2 L2519.2 1733 L2521 1729.9 L2522.9 1730.6 L2524.7 1727.8 L2526.5 1725.3 L2528.3 1729.4 L2530.2 1728.4 L2532 1727.9 L2533.8 1732.2 L2535.6 1730.6 L2537.5 1731.5 L2539.3 1737.7 L2541.1 1740.4 L2543 1736.3 L2544.8 1737.2 L2546.6 1731.9 L2548.4 1735.1 L2550.3 1737.5 L2552.1 1733.1 L2553.9 1733.3 L2555.7 1735.2 L2557.6 1734.4 L2559.4 1733.5 L2561.2 1737.7 L2563 1735.1 L2564.9 1737.2 L2566.7 1734.9 L2568.5 1736 L2570.4 1733.4 L2572.2 1731.7 L2574 1734.9 L2575.8 1734.4 L2577.7 1734.6 L2579.5 1731.7 L2581.3 1736.9 L2583.1 1733.5 L2585 1734.9 L2586.8 1731.5 L2588.6 1731.6 L2590.4 1731.1 L2592.3 1729 L2594.1 1724.7 L2595.9 1728.8 L2597.8 1729.8 L2599.6 1727.8 L2601.4 1724.9 L2603.2 1723.1 L2605.1 1723.2 L2606.9 1727 L2608.7 1723.5 L2610.5 1719.1 L2612.4 1721.6 L2614.2 1722.7 L2616 1724.4 L2617.9 1723.8 L2619.7 1724.5 L2621.5 1728.5 L2623.3 1724.4 L2625.2 1730.8 L2627 1734.1 L2628.8 1728.3 L2630.6 1733.6 L2632.5 1735.9 L2634.3 1734.6 L2636.1 1732.9 L2637.9 1730.1 L2639.8 1730.8 L2641.6 1736.2 L2643.4 1734.1 L2645.3 1733.2 L2647.1 1735.3 L2648.9 1740.9 L2650.7 1737.6 L2652.6 1735.6 L2654.4 1738.2 L2656.2 1735.4 L2658 1735 L2659.9 1738 L2661.7 1740.5 L2663.5 1743 L2665.3 1740.8 L2667.2 1745.3 L2669 1741.8 L2670.8 1741.4 L2672.7 1738.2 L2674.5 1739.2 L2676.3 1737 L2678.1 1737.6 L2680 1734.7 L2681.8 1735.3 L2683.6 1735.8 L2685.4 1735.5 L2687.3 1732.9 L2689.1 1730.2 L2690.9 1731 L2692.8 1733.2 L2694.6 1733 L2696.4 1731.5 L2698.2 1733.4 L2700.1 1734.4 L2701.9 1737.9 L2703.7 1734.5 L2705.5 1733.9 L2707.4 1730 L2709.2 1729.9 L2711 1728.5 L2712.8 1729.7 L2714.7 1729.5 L2716.5 1730.2 L2718.3 1727.5 L2720.2 1728 L2722 1727.6 L2723.8 1726.2 L2725.6 1728.1 L2727.5 1725.4 L2729.3 1726.2 L2731.1 1726.5 L2732.9 1726.2 L2734.8 1726 L2736.6 1726.1 L2738.4 1728.9 L2740.2 1728.6 L2742.1 1727.1 L2743.9 1725.5 L2745.7 1724.3 L2747.6 1723 L2749.4 1721.6 L2751.2 1722 L2753 1723.9 L2754.9 1720.8 L2756.7 1719.8 L2758.5 1719.7 L2760.3 1715.9 L2762.2 1716.3 L2764 1716.2 L2765.8 1713.5 L2767.7 1721.3 L2769.5 1716.3 L2771.3 1720 L2773.1 1720.1 L2775 1715.2 L2776.8 1718.9 L2778.6 1720.9 L2780.4 1719.1 L2782.3 1715.2 L2784.1 1716.9 L2785.9 1715.3 L2787.7 1714.7 L2789.6 1712.9 L2791.4 1713.8 L2793.2 1708.6 L2795.1 1706.6 L2796.9 1707.9 L2798.7 1703.6 L2800.5 1704.3 L2802.4 1701.5 L2804.2 1705.6 L2806 1701.4 L2807.8 1699.7 L2809.7 1699 L2811.5 1698.9 L2813.3 1698.3 L2815.1 1696.8 L2817 1692.1 L2818.8 1691.9 L2820.6 1693.8 L2822.5 1695.4 L2824.3 1693 L2826.1 1693.1 L2827.9 1690 L2829.8 1688.5 L2831.6 1685.5 L2833.4 1688.4 L2835.2 1684.2 L2837.1 1687.5 L2838.9 1686.8 L2840.7 1682.9 L2842.6 1682.6 L2844.4 1681 L2846.2 1676.8 L2848 1676.7 L2849.9 1677.9 L2851.7 1676.2 L2853.5 1676.7 L2855.3 1674.8 L2857.2 1673.5 L2859 1670.5 L2860.8 1667.4 L2862.6 1669 L2864.5 1664.5 L2866.3 1665.1 L2868.1 1666.5 L2870 1669.3 L2871.8 1664.8 L2873.6 1662.8 L2875.4 1660.8 L2877.3 1664.1 L2879.1 1659.4 L2880.9 1660.8 L2882.7 1658.5 L2884.6 1654.6 L2886.4 1652 L2888.2 1648.3 L2890 1648.4 L2891.9 1647.4 L2893.7 1643.6 L2895.5 1642.3 L2897.4 1639.9 L2899.2 1637.8 L2901 1634.2 L2902.8 1633.9 L2904.7 1632.7 L2906.5 1631.5 L2908.3 1628.9 L2910.1 1628.9 L2912 1627.2 L2913.8 1622.2 L2915.6 1619.4 L2917.5 1617.5 L2919.3 1618 L2921.1 1614.2 L2922.9 1616.8 L2924.8 1613.3 L2926.6 1614 L2928.4 1614 L2930.2 1612.2 L2932.1 1609.8 L2933.9 1607.7 L2935.7 1607.5 L2937.5 1602 L2939.4 1602.9 L2941.2 1604.5 L2943 1608.8 L2944.9 1604.6 L2946.7 1603.7 L2948.5 1602.4 L2950.3 1600.7 L2952.2 1599.6 L2954 1600.7 L2955.8 1600.2 L2957.6 1600.4 L2959.5 1599.1 L2961.3 1597.8 L2963.1 1596.4 L2964.9 1592.9 L2966.8 1596.1 L2968.6 1592.2 L2970.4 1591.6 L2972.3 1594 L2974.1 1592.9 L2975.9 1589.5 L2977.7 1588.9 L2979.6 1592.1 L2981.4 1592.4 L2983.2 1589.4 L2988.7 1582 L2994.2 1579.6 L2999.7 1576.7 L3005.1 1574.4" fill="none" stroke="#FF7F50" stroke-width="4.4" stroke-linejoin="round"/>
<path d="M401.9 1597.6 L456.7 1572.8 L511.5 1541.2 L566.3 1517 L621.1 1505.4 L675.9 1496.4 L730.7 1493.8 L785.5 1496.4 L840.3 1503.8 L895.1 1528.6 L950 1553.9 L1004.8 1577.6 L1059.6 1617.1 L1114.4 1671.4 L1169.2 1717.4 L1224 1723.3 L1278.8 1707.1 L1333.6 1687.8 L1388.4 1676.7 L1443.2 1674.4 L1498 1672 L1552.8 1676.1 L1607.6 1691.9 L1662.4 1703.6 L1717.2 1707.1 L1772 1708.9 L1826.8 1712.4 L1881.6 1718.3 L1936.4 1725.9 L1991.2 1732.3 L2046.1 1730 L2100.9 1733.3 L2155.7 1750.5 L2210.5 1744.1 L2265.3 1714.3 L2320.1 1716 L2374.9 1726 L2429.7 1725.4 L2484.5 1731.9 L2539.3 1735.4 L2594.1 1731.3 L2648.9 1733 L2703.7 1729.5 L2758.5 1719.6 L2813.3 1699.1 L2868.1 1663.9 L2922.9 1617.1 L2977.7 1592.5" fill="none" stroke="#FFA500" stroke-width="8.6" stroke-linejoin="round"/>
<path d="M374.5 1615 L401.9 1604.4 L456.7 1567.6 L511.5 1531.7 L566.3 1494.8 L621.1 1488.5 L675.9 1464.3 L730.7 1462.7 L785.5 1469 L840.3 1465.9 L895.1 1499.1 L950 1526.5 L1004.8 1553.9 L1059.6 1598.7 L1114.4 1658.2 L1169.2 1719.6 L1224 1729.9 L1278.8 1723 L1333.6 1700.1 L1388.4 1694.3 L1443.2 1690.2 L1498 1684.3 L1552.8 1684.9 L1607.6 1707.1 L1662.4 1717.7 L1717.2 1719.4 L1772 1722.4 L1826.8 1725.3 L1881.6 1740.5 L1936.4 1751.6 L1991.2 1759.8 L2046.1 1755.8 L2100.9 1755.8 L2155.7 1784.8 L2210.5 1777.5 L2265.3 1744.7 L2320.1 1744.7 L2374.9 1768.7 L2429.7 1751.8 L2484.5 1767.6 L2539.3 1750 L2594.1 1750.6 L2648.9 1755.9 L2703.7 1756.4 L2758.5 1741.8 L2813.3 1728.3 L2868.1 1688.5 L2922.9 1635.8" fill="none" stroke="#A52A2A" stroke-width="4.4" stroke-linejoin="round"/>
</g>
<line x1="373.5" y1="2323.1" x2="3006.2" y2="2323.1" stroke="#262626" stroke-width="2.1"/>
<line x1="374.5" y1="2323.1" x2="374.5" y2="2296.6" stroke="#262626" stroke-width="2.1"/>
<text y="2388.6" font-size="47.6" fill="#262626"><tspan x="360.3" textLength="28.3" lengthAdjust="spacing">0</tspan></text>
<line x1="922.5" y1="2323.1" x2="922.5" y2="2296.6" stroke="#262626" stroke-width="2.1"/>
<text y="2388.6" font-size="47.6" fill="#262626"><tspan x="908.4" textLength="28.3" lengthAdjust="spacing">5</tspan></text>
<line x1="1470.6" y1="2323.1" x2="1470.6" y2="2296.6" stroke="#262626" stroke-width="2.1"/>
<text y="2388.6" font-size="47.6" fill="#262626"><tspan x="1442.3" textLength="56.6" lengthAdjust="spacing">10</tspan></text>
<line x1="2018.7" y1="2323.1" x2="2018.7" y2="2296.6" stroke="#262626" stroke-width="2.1"/>
<text y="2388.6" font-size="47.6" fill="#262626"><tspan x="1990.3" textLength="56.6" lengthAdjust="spacing">15</tspan></text>
<line x1="2566.7" y1="2323.1" x2="2566.7" y2="2296.6" stroke="#262626" stroke-width="2.1"/>
<text y="2388.6" font-size="47.6" fill="#262626"><tspan x="2538.4" textLength="56.6" lengthAdjust="spacing">20</tspan></text>
<text y="2451.7" font-size="47.6" fill="#262626"><tspan x="1421" textLength="88.2" lengthAdjust="spacingAndGlyphs">UTC</tspan><tspan x="1523.4" textLength="125.1" lengthAdjust="spacingAndGlyphs">hours</tspan><tspan x="1662.6" textLength="55.4" lengthAdjust="spacingAndGlyphs">on</tspan><tspan x="1732.2" textLength="226.5" lengthAdjust="spacing">20250730</tspan></text>
<line x1="374.5" y1="1420.8" x2="374.5" y2="2324.1" stroke="#0072BD" stroke-width="2.3000000000000003"/>
<line x1="3005.2" y1="1420.8" x2="3005.2" y2="2324.1" stroke="#0072BD" stroke-width="2.3000000000000003"/>
<line x1="374.5" y1="2288.3" x2="402" y2="2288.3" stroke="#0072BD" stroke-width="2.1"/>
<text y="2305.3" font-size="47.6" fill="#0072BD"><tspan x="264.1" textLength="84.9" lengthAdjust="spacing">260</tspan></text>
<line x1="374.5" y1="2159.9" x2="402" y2="2159.9" stroke="#0072BD" stroke-width="2.1"/>
<text y="2176.9" font-size="47.6" fill="#0072BD"><tspan x="264.1" textLength="84.9" lengthAdjust="spacing">280</tspan></text>
<line x1="374.5" y1="2031.5" x2="402" y2="2031.5" stroke="#0072BD" stroke-width="2.1"/>
<text y="2048.5" font-size="47.6" fill="#0072BD"><tspan x="264.1" textLength="84.9" lengthAdjust="spacing">300</tspan></text>
<line x1="374.5" y1="1903.2" x2="402" y2="1903.2" stroke="#0072BD" stroke-width="2.1"/>
<text y="1920.2" font-size="47.6" fill="#0072BD"><tspan x="264.1" textLength="84.9" lengthAdjust="spacing">320</tspan></text>
<line x1="374.5" y1="1774.8" x2="402" y2="1774.8" stroke="#0072BD" stroke-width="2.1"/>
<text y="1791.8" font-size="47.6" fill="#0072BD"><tspan x="264.1" textLength="84.9" lengthAdjust="spacing">340</tspan></text>
<line x1="374.5" y1="1646.4" x2="402" y2="1646.4" stroke="#0072BD" stroke-width="2.1"/>
<text y="1663.4" font-size="47.6" fill="#0072BD"><tspan x="264.1" textLength="84.9" lengthAdjust="spacing">360</tspan></text>
<line x1="374.5" y1="1518" x2="402" y2="1518" stroke="#0072BD" stroke-width="2.1"/>
<text y="1535" font-size="47.6" fill="#0072BD"><tspan x="264.1" textLength="84.9" lengthAdjust="spacing">380</tspan></text>
<rect x="375.3" y="1421.9" width="692.9" height="908.4" fill="#ffff00" fill-opacity="0.15"/>
<rect x="2859.2" y="1421.9" width="145.2" height="908.4" fill="#ffff00" fill-opacity="0.15"/>
<text y="2157.7" font-size="47.6" fill="#0072BD" transform="rotate(-90 235.2 2157.7)"><tspan x="235.2" textLength="61.1" lengthAdjust="spacingAndGlyphs">BB</tspan><tspan x="310.4" textLength="225.1" lengthAdjust="spacingAndGlyphs">Longwave</tspan><tspan x="549.6" textLength="106.6" lengthAdjust="spacingAndGlyphs">Flux,</tspan><tspan x="670.4" textLength="102.3" lengthAdjust="spacingAndGlyphs">W/m</tspan></text>
<text y="1617" font-size="40.6" fill="#0072BD" transform="rotate(-90 216.2 1617)"><tspan x="216.2" textLength="24.1" lengthAdjust="spacing">2</tspan></text>
<line x1="2243.2" y1="1542.2" x2="2433.5" y2="1542.2" stroke="#0000FF" stroke-width="8.6"/>
<text y="1555.7" font-size="41" fill="#000000"><tspan x="2451.3" textLength="152.2" lengthAdjust="spacingAndGlyphs">SKYRAD</tspan><tspan x="2615.7" textLength="55.7" lengthAdjust="spacingAndGlyphs">LW</tspan><tspan x="2683.6" textLength="108.5" lengthAdjust="spacingAndGlyphs">Down</tspan><tspan x="2804.2" textLength="77.3" lengthAdjust="spacingAndGlyphs">(P1)</tspan></text>
<line x1="2243.2" y1="1596" x2="2433.5" y2="1596" stroke="#EE82EE" stroke-width="8.6"/>
<text y="1609.5" font-size="41" fill="#000000"><tspan x="2451.3" textLength="152.2" lengthAdjust="spacingAndGlyphs">SKYRAD</tspan><tspan x="2615.7" textLength="55.7" lengthAdjust="spacingAndGlyphs">LW</tspan><tspan x="2683.6" textLength="108.5" lengthAdjust="spacingAndGlyphs">Down</tspan><tspan x="2804.2" textLength="77.3" lengthAdjust="spacingAndGlyphs">(P2)</tspan></text>
<line x1="2243.2" y1="1650.5" x2="2433.5" y2="1650.5" stroke="#FA8072" stroke-width="4.4"/>
<text y="1664" font-size="41" fill="#000000"><tspan x="2451.3" textLength="98.4" lengthAdjust="spacingAndGlyphs">SEBS</tspan><tspan x="2561.9" textLength="55.7" lengthAdjust="spacingAndGlyphs">LW</tspan><tspan x="2629.8" textLength="108.5" lengthAdjust="spacingAndGlyphs">Down</tspan></text>
<line x1="2243.2" y1="1704.3" x2="2433.5" y2="1704.3" stroke="#FFA500" stroke-width="8.6"/>
<text y="1717.8" font-size="41" fill="#000000"><tspan x="2451.3" textLength="168.6" lengthAdjust="spacingAndGlyphs">GNDRAD</tspan><tspan x="2632" textLength="55.7" lengthAdjust="spacingAndGlyphs">LW</tspan><tspan x="2699.9" textLength="52.3" lengthAdjust="spacingAndGlyphs">Up</tspan></text>
<line x1="2243.2" y1="1757.6" x2="2433.5" y2="1757.6" stroke="#A52A2A" stroke-width="4.4"/>
<text y="1771.1" font-size="41" fill="#000000"><tspan x="2451.3" textLength="98.4" lengthAdjust="spacingAndGlyphs">SEBS</tspan><tspan x="2561.9" textLength="55.7" lengthAdjust="spacingAndGlyphs">LW</tspan><tspan x="2629.8" textLength="52.3" lengthAdjust="spacingAndGlyphs">Up</tspan></text>
</g>
<g>
<g clip-path="url(#c2)">
<path d="M374.5 2935.7 L401.9 2953.1 L456.7 3030.6 L511.5 2915.7 L566.3 2945.7 L621.1 2890.9 L675.9 3006.3 L730.7 2872.5 L785.5 3053.2 L840.3 3117.5 L895.1 2985.8 L950 3064.8 L1004.8 3154.4 L1059.6 3076.4 L1114.4 3182.3 L1169.2 3146.5 L1224 3143.3 L1278.8 3098 L1333.6 3156 L1388.4 3127 L1443.2 3194.5 L1498 3151.8 L1552.8 3243.5 L1607.6 3196 L1662.4 3202.9 L1717.2 3240.8 L1772 3235.6 L1826.8 3244.5 L1881.6 3131.7 L1936.4 3283 L1991.2 3260.3 L2046.1 3200.3 L2100.9 3162.5 L2155.7 3221.1 L2210.5 3222.6 L2265.3 3190.7 L2320.1 3235.6 L2374.9 3187.6 L2429.7 3176.2 L2484.5 3241.6 L2539.3 3228.7 L2594.1 3235.6 L2648.9 3189.9 L2703.7 3228.7 L2758.5 3233.3 L2813.3 3234 L2868.1 3339.1 L2922.9 3287.3" fill="none" stroke="#808080" stroke-width="4.4" stroke-linejoin="round"/>
<path d="M374.5 2633.8 L401.9 2637.5 L456.7 2592.7 L511.5 2595.9 L566.3 2647 L621.1 2644.9 L675.9 2668.1 L730.7 2689.1 L785.5 2752.9 L840.3 2751.8 L895.1 2758.7 L950 2805.6 L1004.8 2873.6 L1059.6 2839.8 L1114.4 2897.3 L1169.2 2913.6 L1224 2892.8 L1278.8 2895.2 L1333.6 2884.1 L1388.4 2933.1 L1443.2 2965.2 L1498 2974.7 L1552.8 2978.4 L1607.6 3020.6 L1662.4 3013.7 L1717.2 3016.4 L1772 3008.4 L1826.8 2966.3 L1881.6 2955.8 L1936.4 3041.6 L1991.2 3035.8 L2046.1 3027.6 L2100.9 3017.1 L2155.7 2997.3 L2210.5 2984.4 L2265.3 3023.2 L2320.1 3065.1 L2374.9 3044.5 L2429.7 3032.3 L2484.5 3089.4 L2539.3 3079.5 L2594.1 3062.8 L2648.9 3070.4 L2703.7 3081.8 L2758.5 3108.5 L2813.3 3091.7 L2868.1 3132.8 L2922.9 3154.1" fill="none" stroke="#808080" stroke-width="4.4" stroke-linejoin="round" stroke-dasharray="63.6 37.9" stroke-dashoffset="28"/>
<path d="M374.5 3049 L401.9 3043.8 L456.7 3038 L511.5 3051.7 L566.3 3119.1 L621.1 3196.6 L675.9 3180.8 L730.7 3242.4 L785.5 3209.7 L840.3 3235 L895.1 3232.9 L950 3374.1 L1004.8 3348.3 L1059.6 3390.5 L1114.4 3352 L1169.2 3343 L1224 3305.6 L1278.8 3339.9 L1333.6 3288.8 L1388.4 3371.5 L1443.2 3322 L1498 3392.1 L1552.8 3386.8 L1607.6 3382.6 L1662.4 3392.6 L1717.2 3383.6 L1772 3410 L1826.8 3312.5 L1881.6 3307.7 L1936.4 3383.6 L1991.2 3364.1 L2046.1 3345.9 L2100.9 3342.1 L2155.7 3306.3 L2210.5 3249.3 L2265.3 3291.9 L2320.1 3235.6 L2374.9 3253.1 L2429.7 3229.5 L2484.5 3289.6 L2539.3 3301 L2594.1 3275.9 L2648.9 3224.9 L2703.7 3230.2 L2758.5 3250.8 L2813.3 3253.1 L2868.1 3178.5 L2922.9 3249.3" fill="none" stroke="#008000" stroke-width="4.4" stroke-linejoin="round" stroke-dasharray="50.9 18.8 12.8 19" stroke-dashoffset="28"/>
<path d="M374.5 2615.9 L401.9 2603.8 L456.7 2592.7 L511.5 2623.3 L566.3 2772.4 L621.1 2938.4 L675.9 2904.1 L730.7 3038.5 L785.5 2968.9 L840.3 3024.3 L895.1 3020 L950 3330.9 L1004.8 3271.4 L1059.6 3365.2 L1114.4 3280.9 L1169.2 3259.8 L1224 3177.1 L1278.8 3256.1 L1333.6 3133.3 L1388.4 3328.3 L1443.2 3213.4 L1498 3368.3 L1552.8 3355.7 L1607.6 3348.8 L1662.4 3367.8 L1717.2 3349.9 L1772 3411 L1826.8 3192.9 L1881.6 3185 L1936.4 3351 L1991.2 3307.2 L2046.1 3265.5 L2100.9 3259.2 L2155.7 3182.3 L2210.5 3055.2 L2265.3 3150.3 L2320.1 3023.2 L2374.9 3065.1 L2429.7 3011.8 L2484.5 3145 L2539.3 3167.8 L2594.1 3114.5 L2648.9 3002.7 L2703.7 3012.6 L2758.5 3059.7 L2813.3 3064.3 L2868.1 2896.9 L2922.9 3081.8" fill="none" stroke="#FFA500" stroke-width="8.6" stroke-linejoin="round"/>
</g>
<line x1="373.5" y1="3453.1" x2="3006.2" y2="3453.1" stroke="#262626" stroke-width="2.1"/>
<line x1="374.5" y1="3453.1" x2="374.5" y2="3426.6" stroke="#262626" stroke-width="2.1"/>
<text y="3518.6" font-size="47.6" fill="#262626"><tspan x="360.3" textLength="28.3" lengthAdjust="spacing">0</tspan></text>
<line x1="922.5" y1="3453.1" x2="922.5" y2="3426.6" stroke="#262626" stroke-width="2.1"/>
<text y="3518.6" font-size="47.6" fill="#262626"><tspan x="908.4" textLength="28.3" lengthAdjust="spacing">5</tspan></text>
<line x1="1470.6" y1="3453.1" x2="1470.6" y2="3426.6" stroke="#262626" stroke-width="2.1"/>
<text y="3518.6" font-size="47.6" fill="#262626"><tspan x="1442.3" textLength="56.6" lengthAdjust="spacing">10</tspan></text>
<line x1="2018.7" y1="3453.1" x2="2018.7" y2="3426.6" stroke="#262626" stroke-width="2.1"/>
<text y="3518.6" font-size="47.6" fill="#262626"><tspan x="1990.3" textLength="56.6" lengthAdjust="spacing">15</tspan></text>
<line x1="2566.7" y1="3453.1" x2="2566.7" y2="3426.6" stroke="#262626" stroke-width="2.1"/>
<text y="3518.6" font-size="47.6" fill="#262626"><tspan x="2538.4" textLength="56.6" lengthAdjust="spacing">20</tspan></text>
<text y="3581.7" font-size="47.6" fill="#262626"><tspan x="1421" textLength="88.2" lengthAdjust="spacingAndGlyphs">UTC</tspan><tspan x="1523.4" textLength="125.1" lengthAdjust="spacingAndGlyphs">hours</tspan><tspan x="1662.6" textLength="55.4" lengthAdjust="spacingAndGlyphs">on</tspan><tspan x="1732.2" textLength="226.5" lengthAdjust="spacing">20250730</tspan></text>
<line x1="374.5" y1="2550.8" x2="374.5" y2="3454.1" stroke="#0072BD" stroke-width="2.3000000000000003"/>
<line x1="3005.2" y1="2550.8" x2="3005.2" y2="3454.1" stroke="#FF8C00" stroke-width="2.3000000000000003"/>
<line x1="374.5" y1="3397.2" x2="402" y2="3397.2" stroke="#0072BD" stroke-width="2.1"/>
<text y="3414.2" font-size="47.6" fill="#0072BD"><tspan x="249.9" textLength="99.1" lengthAdjust="spacing">26.4</tspan></text>
<line x1="374.5" y1="3280.3" x2="402" y2="3280.3" stroke="#0072BD" stroke-width="2.1"/>
<text y="3297.3" font-size="47.6" fill="#0072BD"><tspan x="249.9" textLength="99.1" lengthAdjust="spacing">26.6</tspan></text>
<line x1="374.5" y1="3163.5" x2="402" y2="3163.5" stroke="#0072BD" stroke-width="2.1"/>
<text y="3180.5" font-size="47.6" fill="#0072BD"><tspan x="249.9" textLength="99.1" lengthAdjust="spacing">26.8</tspan></text>
<line x1="374.5" y1="3046.7" x2="402" y2="3046.7" stroke="#0072BD" stroke-width="2.1"/>
<text y="3063.7" font-size="47.6" fill="#0072BD"><tspan x="292.4" textLength="56.6" lengthAdjust="spacing">27</tspan></text>
<line x1="374.5" y1="2929.9" x2="402" y2="2929.9" stroke="#0072BD" stroke-width="2.1"/>
<text y="2946.9" font-size="47.6" fill="#0072BD"><tspan x="249.9" textLength="99.1" lengthAdjust="spacing">27.2</tspan></text>
<line x1="374.5" y1="2813.2" x2="402" y2="2813.2" stroke="#0072BD" stroke-width="2.1"/>
<text y="2830.2" font-size="47.6" fill="#0072BD"><tspan x="249.9" textLength="99.1" lengthAdjust="spacing">27.4</tspan></text>
<line x1="374.5" y1="2696.3" x2="402" y2="2696.3" stroke="#0072BD" stroke-width="2.1"/>
<text y="2713.3" font-size="47.6" fill="#0072BD"><tspan x="249.9" textLength="99.1" lengthAdjust="spacing">27.6</tspan></text>
<line x1="374.5" y1="2579.5" x2="402" y2="2579.5" stroke="#0072BD" stroke-width="2.1"/>
<text y="2596.5" font-size="47.6" fill="#0072BD"><tspan x="249.9" textLength="99.1" lengthAdjust="spacing">27.8</tspan></text>
<line x1="3005.2" y1="3378.1" x2="2977.7" y2="3378.1" stroke="#FF8C00" stroke-width="2.1"/>
<text y="3395.1" font-size="47.6" fill="#FF8C00"><tspan x="3025.8" textLength="99.1" lengthAdjust="spacing">26.4</tspan></text>
<line x1="3005.2" y1="3250.2" x2="2977.7" y2="3250.2" stroke="#FF8C00" stroke-width="2.1"/>
<text y="3267.2" font-size="47.6" fill="#FF8C00"><tspan x="3025.8" textLength="99.1" lengthAdjust="spacing">26.5</tspan></text>
<line x1="3005.2" y1="3122.3" x2="2977.7" y2="3122.3" stroke="#FF8C00" stroke-width="2.1"/>
<text y="3139.3" font-size="47.6" fill="#FF8C00"><tspan x="3025.8" textLength="99.1" lengthAdjust="spacing">26.6</tspan></text>
<line x1="3005.2" y1="2994.5" x2="2977.7" y2="2994.5" stroke="#FF8C00" stroke-width="2.1"/>
<text y="3011.5" font-size="47.6" fill="#FF8C00"><tspan x="3025.8" textLength="99.1" lengthAdjust="spacing">26.7</tspan></text>
<line x1="3005.2" y1="2866.6" x2="2977.7" y2="2866.6" stroke="#FF8C00" stroke-width="2.1"/>
<text y="2883.6" font-size="47.6" fill="#FF8C00"><tspan x="3025.8" textLength="99.1" lengthAdjust="spacing">26.8</tspan></text>
<line x1="3005.2" y1="2738.7" x2="2977.7" y2="2738.7" stroke="#FF8C00" stroke-width="2.1"/>
<text y="2755.7" font-size="47.6" fill="#FF8C00"><tspan x="3025.8" textLength="99.1" lengthAdjust="spacing">26.9</tspan></text>
<line x1="3005.2" y1="2610.8" x2="2977.7" y2="2610.8" stroke="#FF8C00" stroke-width="2.1"/>
<text y="2627.8" font-size="47.6" fill="#FF8C00"><tspan x="3025.8" textLength="56.6" lengthAdjust="spacing">27</tspan></text>
<rect x="375.3" y="2551.9" width="692.9" height="908.4" fill="#ffff00" fill-opacity="0.15"/>
<rect x="2859.2" y="2551.9" width="145.2" height="908.4" fill="#ffff00" fill-opacity="0.15"/>
<text y="3183.1" font-size="47.6" fill="#0072BD" transform="rotate(-90 220.2 3183.1)"><tspan x="220.2" textLength="80.2" lengthAdjust="spacingAndGlyphs">Soil</tspan><tspan x="314.5" textLength="205.7" lengthAdjust="spacingAndGlyphs">Moisture,</tspan><tspan x="534.4" textLength="42.3" lengthAdjust="spacingAndGlyphs">%</tspan></text>
<text y="3281.3" font-size="47.6" fill="#FF8C00" transform="rotate(-90 3193.5 3281.3)"><tspan x="3193.5" textLength="182.7" lengthAdjust="spacingAndGlyphs">Average</tspan><tspan x="3390.4" textLength="80.2" lengthAdjust="spacingAndGlyphs">Soil</tspan><tspan x="3484.7" textLength="205.7" lengthAdjust="spacingAndGlyphs">Moisture,</tspan><tspan x="3704.5" textLength="42.3" lengthAdjust="spacingAndGlyphs">%</tspan></text>
<line x1="2198.9" y1="2621.3" x2="2389.2" y2="2621.3" stroke="#808080" stroke-width="4.4"/>
<text y="2634.8" font-size="41" fill="#000000"><tspan x="2407" textLength="98.4" lengthAdjust="spacingAndGlyphs">SEBS</tspan><tspan x="2517.6" textLength="69" lengthAdjust="spacingAndGlyphs">Soil</tspan><tspan x="2598.8" textLength="164.8" lengthAdjust="spacingAndGlyphs">Moisture</tspan><tspan x="2775.8" textLength="24.4" lengthAdjust="spacing">1</tspan></text>
<line x1="2198.9" y1="2673.9" x2="2389.2" y2="2673.9" stroke="#808080" stroke-width="4.4" stroke-dasharray="63.6 37.9"/>
<text y="2687.4" font-size="41" fill="#000000"><tspan x="2407" textLength="98.4" lengthAdjust="spacingAndGlyphs">SEBS</tspan><tspan x="2517.6" textLength="64.7" lengthAdjust="spacingAndGlyphs">soil</tspan><tspan x="2594.4" textLength="169.1" lengthAdjust="spacingAndGlyphs">moisture</tspan><tspan x="2775.7" textLength="24.4" lengthAdjust="spacing">2</tspan></text>
<line x1="2198.9" y1="2727.1" x2="2389.2" y2="2727.1" stroke="#008000" stroke-width="4.4" stroke-dasharray="50.9 18.8 12.8 19"/>
<text y="2740.6" font-size="41" fill="#000000"><tspan x="2407" textLength="98.4" lengthAdjust="spacingAndGlyphs">SEBS</tspan><tspan x="2517.6" textLength="64.7" lengthAdjust="spacingAndGlyphs">soil</tspan><tspan x="2594.4" textLength="169.1" lengthAdjust="spacingAndGlyphs">moisture</tspan><tspan x="2775.7" textLength="24.4" lengthAdjust="spacing">3</tspan></text>
<line x1="2198.9" y1="2779.6" x2="2389.2" y2="2779.6" stroke="#FFA500" stroke-width="8.6"/>
<text y="2793.1" font-size="41" fill="#000000"><tspan x="2407" textLength="98.4" lengthAdjust="spacingAndGlyphs">SEBS</tspan><tspan x="2517.6" textLength="156.8" lengthAdjust="spacingAndGlyphs">average</tspan><tspan x="2686.6" textLength="64.7" lengthAdjust="spacingAndGlyphs">soil</tspan><tspan x="2763.4" textLength="169.1" lengthAdjust="spacingAndGlyphs">moisture</tspan></text>
</g>
<g>
<g clip-path="url(#c3)">
<path d="M374.5 4317.6 L401.9 4303.4 L456.7 4258.6 L511.5 4265.4 L566.3 4283.9 L621.1 4260.2 L675.9 4262.3 L730.7 4263.3 L785.5 4277 L840.3 4284.4 L895.1 4315.5 L950 4338.7 L1004.8 4357.7 L1059.6 4370.8 L1114.4 4343.4 L1169.2 4387.4 L1224 4423.2 L1278.8 4424 L1333.6 4427.2 L1388.4 4449.8 L1443.2 4454 L1498 4479.3 L1552.8 4509.9 L1607.6 4522 L1662.4 4476.7 L1717.2 4484.1 L1772 4475.6 L1826.8 4477.2 L1881.6 4459.3 L1936.4 4449.3 L1991.2 4448.3 L2046.1 4446.2 L2100.9 4444.4 L2155.7 4415.4 L2210.5 4412.8 L2265.3 4436.7 L2320.1 4419.9 L2374.9 4393.5 L2429.7 4423.1 L2484.5 4421.8 L2539.3 4412.8 L2594.1 4433.4 L2648.9 4417.3 L2703.7 4459.2 L2758.5 4388.4 L2813.3 4421.8 L2868.1 4394.2 L2922.9 4365.8" fill="none" stroke="#FFC0CB" stroke-width="4.4" stroke-linejoin="round"/>
<path d="M374.5 4274.9 L401.9 4273.4 L456.7 4209.6 L511.5 4217 L566.3 4239.1 L621.1 4184.8 L675.9 4195.4 L730.7 4202.7 L785.5 4213.8 L840.3 4211.7 L895.1 4259.7 L950 4283.4 L1004.8 4313.9 L1059.6 4345.5 L1114.4 4333.4 L1169.2 4341.8 L1224 4383.2 L1278.8 4307 L1333.6 4402.9 L1388.4 4307.6 L1443.2 4369.7 L1498 4348.1 L1552.8 4348.1 L1607.6 4382.4 L1662.4 4365 L1717.2 4360.8 L1772 4360.8 L1826.8 4361.8 L1881.6 4367.1 L1936.4 4369.7 L1991.2 4370.3 L2046.1 4374.1 L2100.9 4371 L2155.7 4380 L2210.5 4372.3 L2265.3 4369 L2320.1 4381.9 L2374.9 4374.8 L2429.7 4378.1 L2484.5 4374.8 L2539.3 4375.5 L2594.1 4385.1 L2648.9 4368.4 L2703.7 4378.1 L2758.5 4388.4 L2813.3 4362 L2868.1 4338.1 L2922.9 4291.1" fill="none" stroke="#FFA500" stroke-width="4.4" stroke-linejoin="round"/>
<path d="M374.5 4221.7 L401.9 4205.9 L456.7 4097.4 L511.5 4112.1 L566.3 4152.7 L621.1 4073.1 L675.9 4086.8 L730.7 4095.8 L785.5 4122.1 L840.3 4125.3 L895.1 4204.9 L950 4250.7 L1004.8 4298.1 L1059.6 4345.5 L1114.4 4305 L1169.2 4359.7 L1224 4437.2 L1278.8 4360.8 L1333.6 4459.8 L1388.4 4387.6 L1443.2 4454 L1498 4456.7 L1552.8 4488.3 L1607.6 4530.4 L1662.4 4471.4 L1717.2 4475.1 L1772 4466.7 L1826.8 4468.8 L1881.6 4456.7 L1936.4 4449.3 L1991.2 4449.7 L2046.1 4450.9 L2100.9 4445 L2155.7 4425.7 L2210.5 4414.8 L2265.3 4437.3 L2320.1 4431.5 L2374.9 4398.7 L2429.7 4430.2 L2484.5 4426.4 L2539.3 4418.6 L2594.1 4447.6 L2648.9 4416.7 L2703.7 4467.6 L2758.5 4407 L2813.3 4415.4 L2868.1 4360.7 L2922.9 4285.3" fill="none" stroke="#A52A2A" stroke-width="4.4" stroke-linejoin="round"/>
<circle cx="1059.6" cy="4346.6" r="3.8" fill="#ff0000"/>
<circle cx="1059.6" cy="4371.9" r="3.8" fill="#ff0000"/>
<circle cx="1443.2" cy="4369.7" r="3.8" fill="#ff0000"/>
<circle cx="1607.6" cy="4382.4" r="3.8" fill="#ff0000"/>
<circle cx="1443.2" cy="4454" r="3.8" fill="#ff0000"/>
<circle cx="1607.6" cy="4534.7" r="3.8" fill="#ff0000"/>
<circle cx="2210.5" cy="4372.3" r="3.8" fill="#ff0000"/>
<circle cx="2210.5" cy="4414.1" r="3.8" fill="#ff0000"/>
<circle cx="2265.3" cy="4369" r="3.8" fill="#ff0000"/>
<circle cx="2265.3" cy="4437.3" r="3.8" fill="#ff0000"/>
<circle cx="2648.9" cy="4368.4" r="3.8" fill="#ff0000"/>
<circle cx="2648.9" cy="4416.7" r="3.8" fill="#ff0000"/>
<circle cx="2758.5" cy="4388.4" r="3.8" fill="#ff0000"/>
<circle cx="2758.5" cy="4407" r="3.8" fill="#ff0000"/>
<path d="M374.5 4359.8 L456.7 4363.5 L511.5 4367.1 L621.1 4375.1 L730.7 4380.3 L840.3 4383.5 L895.1 4384 L950 4384 L1004.8 4383 L1059.6 4380.8 L1114.4 4377.7 L1169.2 4372.9 L1224 4367.7 L1278.8 4365 L1333.6 4362.9 L1388.4 4361.8 L1443.2 4361.3 L1552.8 4360.8 L1717.2 4359.7 L2046.1 4357.1 L2210.5 4354.9 L2484.5 4355.5 L2703.7 4355.5 L2813.3 4356.8 L2922.9 4359.4" fill="none" stroke="#0000FF" stroke-width="4.4" stroke-linejoin="round"/>
<path d="M401.9 4038.9 L456.7 3987.2 L511.5 3937.2 L566.3 3900.3 L621.1 3882.9 L675.9 3886.1 L730.7 3909.8 L785.5 3953 L840.3 4012.5 L895.1 4083.7 L950 4169 L1004.8 4266.5 L1059.6 4361.3 L1114.4 4443 L1169.2 4498.1 L1224 4521.8 L1278.8 4525.7 L1333.6 4530.4 L1388.4 4535.2 L1443.2 4536.2 L1498 4535.7 L1552.8 4534.7 L1607.6 4531.5 L1662.4 4528.3 L1717.2 4527.3 L1772 4527.3 L1826.8 4527.3 L1881.6 4526.8 L1936.4 4525.7 L1991.2 4524.4 L2046.1 4525 L2100.9 4524.2 L2155.7 4518.5 L2210.5 4519.1 L2265.3 4526.8 L2320.1 4526.2 L2374.9 4521.7 L2429.7 4519.7 L2484.5 4518.5 L2539.3 4517.8 L2594.1 4519.1 L2648.9 4519.7 L2703.7 4515.2 L2758.5 4489.5 L2813.3 4421.8 L2868.1 4325.2 L2922.9 4233.1 L2977.7 4166.2" fill="none" stroke="#808080" stroke-width="8.6" stroke-linejoin="round"/>
<path d="M374.5 3950.3 L401.9 3897.7 L456.7 3829.2 L511.5 3764.9 L566.3 3731.7 L621.1 3716.4 L675.9 3728 L730.7 3758 L785.5 3806.5 L840.3 3880.3 L895.1 3963.5 L950 4068.9 L1004.8 4184.8 L1059.6 4303.4 L1114.4 4404.6 L1169.2 4477 L1224 4499.1 L1278.8 4500.9 L1333.6 4507.3 L1388.4 4510.4 L1443.2 4511.5 L1498 4512 L1552.8 4512 L1607.6 4508.3 L1662.4 4506.2 L1717.2 4505.1 L1772 4505.1 L1826.8 4504.6 L1881.6 4502 L1936.4 4499.4 L1991.2 4497.5 L2046.1 4498.1 L2100.9 4499.1 L2155.7 4490.8 L2210.5 4490.1 L2265.3 4499.1 L2320.1 4498.5 L2374.9 4490.1 L2429.7 4494 L2484.5 4490.1 L2539.3 4494 L2594.1 4494.6 L2648.9 4495.3 L2703.7 4492 L2758.5 4452.8 L2813.3 4360.7 L2868.1 4228.6 L2922.9 4103" fill="none" stroke="#000000" stroke-width="4.4" stroke-linejoin="round"/>
<path d="M374.5 3938.8 L401.9 3891.3 L456.7 3823.9 L511.5 3762.2 L566.3 3731.7 L621.1 3720.1 L675.9 3731.7 L730.7 3763.3 L785.5 3814.4 L840.3 3885.5 L895.1 3968.8 L950 4073.1 L1004.8 4187.5 L1059.6 4305 L1114.4 4409.8 L1169.2 4480.4 L1224 4497.3 L1278.8 4495.7 L1333.6 4498.8 L1388.4 4500.9 L1443.2 4501.5 L1498 4502 L1552.8 4502 L1607.6 4497.2 L1662.4 4495.7 L1717.2 4493.6 L1772 4493 L1826.8 4493 L1881.6 4489.9 L1936.4 4487.2 L1991.2 4484.8 L2046.1 4484.2 L2100.9 4485.6 L2155.7 4476.6 L2210.5 4474.7 L2265.3 4484.3 L2320.1 4483.7 L2374.9 4475.9 L2429.7 4479.2 L2484.5 4475.9 L2539.3 4479.8 L2594.1 4480.5 L2648.9 4481.1 L2703.7 4477.2 L2758.5 4439.9 L2813.3 4351 L2868.1 4219 L2922.9 4093.4" fill="none" stroke="#008000" stroke-width="4.4" stroke-linejoin="round"/>
<path d="M374.5 3938.8 L401.9 3891.3 L456.7 3823.9 L511.5 3762.2 L566.3 3731.7 L621.1 3720.1 L675.9 3731.7 L730.7 3763.3 L785.5 3814.4 L840.3 3885.5 L895.1 3968.8 L950 4073.1 L1004.8 4187.5 L1059.6 4305 L1114.4 4409.8 L1169.2 4480.4 L1224 4497.3 L1278.8 4495.7 L1333.6 4498.8 L1388.4 4500.9 L1443.2 4501.5 L1498 4502 L1552.8 4502 L1607.6 4497.2 L1662.4 4495.7 L1717.2 4493.6 L1772 4493 L1826.8 4493 L1881.6 4489.9 L1936.4 4487.2 L1991.2 4484.8 L2046.1 4484.2 L2100.9 4485.6 L2155.7 4476.6 L2210.5 4474.7 L2265.3 4484.3 L2320.1 4483.7 L2374.9 4475.9 L2429.7 4479.2 L2484.5 4475.9 L2539.3 4479.8 L2594.1 4480.5 L2648.9 4481.1 L2703.7 4477.2 L2758.5 4439.9 L2813.3 4351 L2868.1 4219 L2922.9 4093.4" fill="none" stroke="#DDA0DD" stroke-width="4.4" stroke-linejoin="round" stroke-dasharray="63.6 37.9" stroke-dashoffset="50"/>
</g>
<line x1="373.5" y1="4576.1" x2="3006.2" y2="4576.1" stroke="#262626" stroke-width="2.1"/>
<line x1="374.5" y1="4576.1" x2="374.5" y2="4549.6" stroke="#262626" stroke-width="2.1"/>
<text y="4641.6" font-size="47.6" fill="#262626"><tspan x="360.3" textLength="28.3" lengthAdjust="spacing">0</tspan></text>
<line x1="922.5" y1="4576.1" x2="922.5" y2="4549.6" stroke="#262626" stroke-width="2.1"/>
<text y="4641.6" font-size="47.6" fill="#262626"><tspan x="908.4" textLength="28.3" lengthAdjust="spacing">5</tspan></text>
<line x1="1470.6" y1="4576.1" x2="1470.6" y2="4549.6" stroke="#262626" stroke-width="2.1"/>
<text y="4641.6" font-size="47.6" fill="#262626"><tspan x="1442.3" textLength="56.6" lengthAdjust="spacing">10</tspan></text>
<line x1="2018.7" y1="4576.1" x2="2018.7" y2="4549.6" stroke="#262626" stroke-width="2.1"/>
<text y="4641.6" font-size="47.6" fill="#262626"><tspan x="1990.3" textLength="56.6" lengthAdjust="spacing">15</tspan></text>
<line x1="2566.7" y1="4576.1" x2="2566.7" y2="4549.6" stroke="#262626" stroke-width="2.1"/>
<text y="4641.6" font-size="47.6" fill="#262626"><tspan x="2538.4" textLength="56.6" lengthAdjust="spacing">20</tspan></text>
<text y="4704.7" font-size="47.6" fill="#262626"><tspan x="1421" textLength="88.2" lengthAdjust="spacingAndGlyphs">UTC</tspan><tspan x="1523.4" textLength="125.1" lengthAdjust="spacingAndGlyphs">hours</tspan><tspan x="1662.6" textLength="55.4" lengthAdjust="spacingAndGlyphs">on</tspan><tspan x="1732.2" textLength="226.5" lengthAdjust="spacing">20250730</tspan></text>
<line x1="374.5" y1="3674.9" x2="374.5" y2="4577.1" stroke="#0072BD" stroke-width="2.3000000000000003"/>
<line x1="3005.2" y1="3674.9" x2="3005.2" y2="4577.1" stroke="#0072BD" stroke-width="2.3000000000000003"/>
<line x1="374.5" y1="4553.2" x2="402" y2="4553.2" stroke="#0072BD" stroke-width="2.1"/>
<text y="4570.2" font-size="47.6" fill="#0072BD"><tspan x="248" textLength="101" lengthAdjust="spacing">-100</tspan></text>
<line x1="374.5" y1="4370.3" x2="402" y2="4370.3" stroke="#0072BD" stroke-width="2.1"/>
<text y="4387.3" font-size="47.6" fill="#0072BD"><tspan x="320.7" textLength="28.3" lengthAdjust="spacing">0</tspan></text>
<line x1="374.5" y1="4187.4" x2="402" y2="4187.4" stroke="#0072BD" stroke-width="2.1"/>
<text y="4204.4" font-size="47.6" fill="#0072BD"><tspan x="264.1" textLength="84.9" lengthAdjust="spacing">100</tspan></text>
<line x1="374.5" y1="4004.5" x2="402" y2="4004.5" stroke="#0072BD" stroke-width="2.1"/>
<text y="4021.5" font-size="47.6" fill="#0072BD"><tspan x="264.1" textLength="84.9" lengthAdjust="spacing">200</tspan></text>
<line x1="374.5" y1="3821.6" x2="402" y2="3821.6" stroke="#0072BD" stroke-width="2.1"/>
<text y="3838.6" font-size="47.6" fill="#0072BD"><tspan x="264.1" textLength="84.9" lengthAdjust="spacing">300</tspan></text>
<rect x="375.3" y="3676" width="692.9" height="907.3" fill="#ffff00" fill-opacity="0.15"/>
<rect x="2859.2" y="3676" width="145.2" height="907.3" fill="#ffff00" fill-opacity="0.15"/>
<text y="4259.1" font-size="47.6" fill="#0072BD" transform="rotate(-90 221.9 4259.1)"><tspan x="221.9" textLength="106.6" lengthAdjust="spacingAndGlyphs">Flux,</tspan><tspan x="342.7" textLength="102.3" lengthAdjust="spacingAndGlyphs">W/m</tspan></text>
<text y="4030.9" font-size="40.6" fill="#0072BD" transform="rotate(-90 202.9 4030.9)"><tspan x="202.9" textLength="37.8" lengthAdjust="spacing">-2</tspan></text>
<line x1="1925.8" y1="3725.7" x2="2117.2" y2="3725.7" stroke="#FFC0CB" stroke-width="4.4"/>
<text y="3739.2" font-size="41" fill="#000000"><tspan x="2135.6" textLength="107.7" lengthAdjust="spacingAndGlyphs">ECOR</tspan><tspan x="2255.5" textLength="156.9" lengthAdjust="spacingAndGlyphs">sensible</tspan><tspan x="2424.6" textLength="86.3" lengthAdjust="spacingAndGlyphs">heat</tspan><tspan x="2523.1" textLength="71.1" lengthAdjust="spacingAndGlyphs">flux</tspan></text>
<line x1="1925.8" y1="3780.1" x2="2117.2" y2="3780.1" stroke="#FFA500" stroke-width="4.4"/>
<text y="3793.6" font-size="41" fill="#000000"><tspan x="2135.6" textLength="107.7" lengthAdjust="spacingAndGlyphs">ECOR</tspan><tspan x="2255.5" textLength="112" lengthAdjust="spacingAndGlyphs">latent</tspan><tspan x="2379.6" textLength="86.3" lengthAdjust="spacingAndGlyphs">heat</tspan><tspan x="2478.1" textLength="71.1" lengthAdjust="spacingAndGlyphs">flux</tspan></text>
<line x1="1925.8" y1="3835.2" x2="2117.2" y2="3835.2" stroke="#A52A2A" stroke-width="4.4"/>
<text y="3848.7" font-size="41" fill="#000000"><tspan x="2135.6" textLength="107.7" lengthAdjust="spacingAndGlyphs">ECOR</tspan><tspan x="2255.5" textLength="112" lengthAdjust="spacingAndGlyphs">latent</tspan><tspan x="2379.6" textLength="32.1" lengthAdjust="spacingAndGlyphs">+</tspan><tspan x="2423.9" textLength="156.9" lengthAdjust="spacingAndGlyphs">sensible</tspan><tspan x="2593" textLength="86.3" lengthAdjust="spacingAndGlyphs">heat</tspan><tspan x="2691.5" textLength="71.1" lengthAdjust="spacingAndGlyphs">flux</tspan></text>
<line x1="1925.8" y1="3889" x2="2117.2" y2="3889" stroke="#0000FF" stroke-width="4.4"/>
<text y="3902.5" font-size="41" fill="#000000"><tspan x="2135.6" textLength="98.4" lengthAdjust="spacingAndGlyphs">SEBS</tspan><tspan x="2246.2" textLength="64.7" lengthAdjust="spacingAndGlyphs">soil</tspan><tspan x="2323" textLength="86.3" lengthAdjust="spacingAndGlyphs">heat</tspan><tspan x="2421.5" textLength="71.1" lengthAdjust="spacingAndGlyphs">flux</tspan></text>
<line x1="1925.8" y1="3943.5" x2="2117.2" y2="3943.5" stroke="#808080" stroke-width="8.6"/>
<text y="3957" font-size="41" fill="#000000"><tspan x="2135.6" textLength="252.9" lengthAdjust="spacingAndGlyphs">SKY/GNDRAD</tspan><tspan x="2400.7" textLength="62.9" lengthAdjust="spacingAndGlyphs">net</tspan><tspan x="2475.7" textLength="171" lengthAdjust="spacingAndGlyphs">radiation</tspan></text>
<line x1="1925.8" y1="3997.9" x2="2117.2" y2="3997.9" stroke="#000000" stroke-width="4.4"/>
<text y="4011.4" font-size="41" fill="#000000"><tspan x="2135.6" textLength="98.4" lengthAdjust="spacingAndGlyphs">SEBS</tspan><tspan x="2246.2" textLength="62.9" lengthAdjust="spacingAndGlyphs">net</tspan><tspan x="2321.2" textLength="171" lengthAdjust="spacingAndGlyphs">radiation</tspan></text>
<line x1="1925.8" y1="4052.4" x2="2117.2" y2="4052.4" stroke="#008000" stroke-width="4.4"/>
<text y="4065.9" font-size="41" fill="#000000"><tspan x="2135.6" textLength="98.4" lengthAdjust="spacingAndGlyphs">SEBS</tspan><tspan x="2246.2" textLength="151.1" lengthAdjust="spacingAndGlyphs">&quot;energy</tspan><tspan x="2409.4" textLength="168.4" lengthAdjust="spacingAndGlyphs">balance&quot;</tspan></text>
<line x1="1925.8" y1="4106.2" x2="2117.2" y2="4106.2" stroke="#DDA0DD" stroke-width="4.4" stroke-dasharray="63.6 37.9"/>
<text y="4119.7" font-size="41" fill="#000000"><tspan x="2135.6" textLength="98.4" lengthAdjust="spacingAndGlyphs">SEBS</tspan><tspan x="2246.2" textLength="62.9" lengthAdjust="spacingAndGlyphs">net</tspan><tspan x="2321.2" textLength="63.5" lengthAdjust="spacingAndGlyphs">rad</tspan><tspan x="2396.9" textLength="32.1" lengthAdjust="spacingAndGlyphs">+</tspan><tspan x="2441.2" textLength="64.7" lengthAdjust="spacingAndGlyphs">soil</tspan><tspan x="2518" textLength="86.3" lengthAdjust="spacingAndGlyphs">heat</tspan></text>
</g>
</svg>
</body></html>
